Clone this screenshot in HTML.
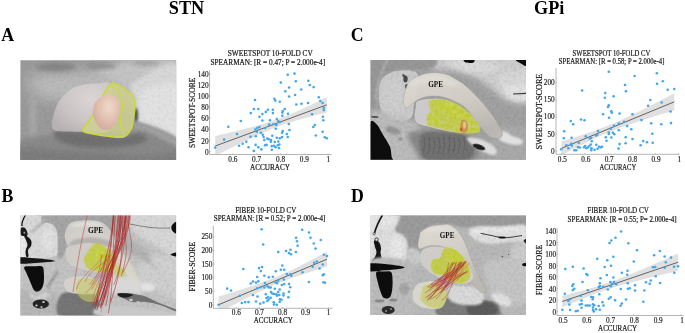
<!DOCTYPE html>
<html><head><meta charset="utf-8"><style>
html,body{margin:0;padding:0;background:#fff;width:685px;height:333px;overflow:hidden}
svg{display:block;will-change:transform}
</style></head><body>
<svg width="685" height="333" viewBox="0 0 685 333" font-family="'Liberation Serif', serif">
<rect width="685" height="333" fill="#fff"/>
<text x="186.50" y="14.40" font-size="18.2" text-anchor="middle" fill="#000" font-weight="bold" >STN</text>
<text x="549.20" y="14.40" font-size="18.2" text-anchor="middle" fill="#000" font-weight="bold" >GPi</text>
<text x="1.30" y="40.80" font-size="17.8" text-anchor="start" fill="#000" font-weight="bold" >A</text>
<text x="1.50" y="202.40" font-size="17.8" text-anchor="start" fill="#000" font-weight="bold" >B</text>
<text x="350.80" y="41.10" font-size="17.8" text-anchor="start" fill="#000" font-weight="bold" >C</text>
<text x="351.00" y="202.30" font-size="17.8" text-anchor="start" fill="#000" font-weight="bold" >D</text>
<defs>
<filter id="b1" x="-50%" y="-50%" width="200%" height="200%"><feGaussianBlur stdDeviation="1"/></filter>
<filter id="b2" x="-50%" y="-50%" width="200%" height="200%"><feGaussianBlur stdDeviation="2"/></filter>
<filter id="b3" x="-50%" y="-50%" width="200%" height="200%"><feGaussianBlur stdDeviation="3.5"/></filter>
<filter id="b5" x="-50%" y="-50%" width="200%" height="200%"><feGaussianBlur stdDeviation="6"/></filter>
<filter id="b05" x="-50%" y="-50%" width="200%" height="200%"><feGaussianBlur stdDeviation="0.5"/></filter>
<filter id="noise" x="0" y="0" width="100%" height="100%">
 <feTurbulence type="fractalNoise" baseFrequency="0.35" numOctaves="2" seed="3" result="n"/>
 <feColorMatrix type="matrix" values="0 0 0 0 0  0 0 0 0 0  0 0 0 0 0  0 0 0 -1.2 0.75" />
</filter>
<filter id="blotch" x="0" y="0" width="100%" height="100%">
 <feTurbulence type="fractalNoise" baseFrequency="0.28" numOctaves="2" seed="7" result="n"/>
 <feColorMatrix in="n" type="matrix" values="0 0 0 0 1  0 0 0 0 1  0 0 0 0 1  0 0 0 2.2 -0.55" result="m"/>
 <feComposite in="SourceGraphic" in2="m" operator="in" result="c"/>
 <feGaussianBlur in="c" stdDeviation="0.4"/>
</filter>
<clipPath id="cA"><rect x="-0.6" y="-0.7" width="155.7" height="99.6"/></clipPath>
<clipPath id="cB"><rect x="-0.6" y="-0.4" width="155.7" height="99.8"/></clipPath>
<clipPath id="cC"><rect x="-0.4" y="-0.4" width="155.4" height="99.7"/></clipPath>
<clipPath id="cD"><rect x="-0.6" y="-0.4" width="155.6" height="99.5"/></clipPath>
<radialGradient id="gOr" cx="0.6" cy="0.35" r="0.75"><stop offset="0" stop-color="#efdacb"/><stop offset="0.5" stop-color="#e2c0b0"/><stop offset="1" stop-color="#d2a69a"/></radialGradient>
<linearGradient id="gGPE" x1="0" y1="0" x2="0.3" y2="1"><stop offset="0" stop-color="#e2ded6"/><stop offset="0.55" stop-color="#d4d0c8"/><stop offset="1" stop-color="#bcb8b3"/></linearGradient>
<radialGradient id="gWh" cx="0.65" cy="0.35" r="0.75"><stop offset="0" stop-color="#e0dad8"/><stop offset="0.6" stop-color="#d0c9ca"/><stop offset="1" stop-color="#bab4b6"/></radialGradient>
</defs>
<g transform="translate(21,61)" clip-path="url(#cA)">
<rect x="-2" y="-2" width="160" height="104" fill="#9a9a9a"/>
<path d="M8.00,14.00 C16.00,9.33 35.00,10.67 60.00,8.00 C85.00,5.33 141.67,-10.67 158.00,-2.00 C174.33,6.67 162.67,49.33 158.00,60.00 C153.33,70.67 138.00,64.00 130.00,62.00 C122.00,60.00 118.33,50.83 110.00,48.00 C101.67,45.17 91.67,46.00 80.00,45.00 C68.33,44.00 51.33,43.50 40.00,42.00 C28.67,40.50 17.33,40.67 12.00,36.00 C6.67,31.33 0.00,18.67 8.00,14.00Z" fill="#b2b2b2" filter="url(#b5)" />
<path d="M20.00,20.00 C26.33,17.67 46.67,17.00 60.00,16.00 C73.33,15.00 91.67,12.50 100.00,14.00 C108.33,15.50 113.33,21.50 110.00,25.00 C106.67,28.50 91.67,33.50 80.00,35.00 C68.33,36.50 49.67,34.83 40.00,34.00 C30.33,33.17 25.33,32.33 22.00,30.00 C18.67,27.67 13.67,22.33 20.00,20.00Z" fill="#bababa" filter="url(#b3)" />
<path d="M80.00,6.00 C90.50,2.67 145.00,-7.33 158.00,0.00 C171.00,7.33 161.83,40.83 158.00,50.00 C154.17,59.17 142.17,57.50 135.00,55.00 C127.83,52.50 121.67,40.83 115.00,35.00 C108.33,29.17 100.83,24.83 95.00,20.00 C89.17,15.17 69.50,9.33 80.00,6.00Z" fill="#c4c4c4" filter="url(#b3)" />
<path d="M112.00,22.00 C119.33,16.17 150.33,-4.83 158.00,5.00 C165.67,14.83 160.33,69.50 158.00,81.00 C155.67,92.50 148.83,76.33 144.00,74.00 C139.17,71.67 134.00,69.17 129.00,67.00 C124.00,64.83 116.50,65.50 114.00,61.00 C111.50,56.50 114.33,46.50 114.00,40.00 C113.67,33.50 104.67,27.83 112.00,22.00Z" fill="#d8d8d8" filter="url(#b2)" />
<path d="M122.00,30.00 C128.33,24.50 152.00,17.33 158.00,25.00 C164.00,32.67 160.33,68.83 158.00,76.00 C155.67,83.17 148.67,70.33 144.00,68.00 C139.33,65.67 134.00,63.67 130.00,62.00 C126.00,60.33 121.33,63.33 120.00,58.00 C118.67,52.67 115.67,35.50 122.00,30.00Z" fill="#e2e2e2" filter="url(#b2)" />
<ellipse cx="35" cy="6" rx="20" ry="4" fill="#858585" filter="url(#b2)"/>
<ellipse cx="80" cy="5" rx="16" ry="3" fill="#8f8f8f" filter="url(#b2)"/>
<ellipse cx="125" cy="2" rx="14" ry="2.5" fill="#a0a0a0" filter="url(#b2)"/>
<ellipse cx="12" cy="55" rx="3.5" ry="30" fill="#a8a8a8" filter="url(#b2)"/>
<path d="M-2.00,80.00 C3.33,75.50 18.00,75.67 30.00,74.00 C42.00,72.33 56.67,70.33 70.00,70.00 C83.33,69.67 100.67,72.17 110.00,72.00 C119.33,71.83 120.33,68.33 126.00,69.00 C131.67,69.67 138.67,73.67 144.00,76.00 C149.33,78.33 155.67,78.83 158.00,83.00 C160.33,87.17 184.67,98.00 158.00,101.00 C131.33,104.00 24.67,104.50 -2.00,101.00 C-28.67,97.50 -7.33,84.50 -2.00,80.00Z" fill="#8a8a8a" filter="url(#b2)" />
<path d="M114.00,60.00 C116.33,59.50 123.00,62.33 128.00,64.00 C133.00,65.67 139.00,67.67 144.00,70.00 C149.00,72.33 155.67,75.33 158.00,78.00 C160.33,80.67 160.33,85.67 158.00,86.00 C155.67,86.33 149.00,82.33 144.00,80.00 C139.00,77.67 133.00,74.17 128.00,72.00 C123.00,69.83 116.33,69.00 114.00,67.00 C111.67,65.00 111.67,60.50 114.00,60.00Z" fill="#9e9e9e" filter="url(#b1)" />
<path d="M35.00,70.00 C40.33,68.67 59.17,71.17 70.00,72.00 C80.83,72.83 92.00,75.00 100.00,75.00 C108.00,75.00 113.83,71.17 118.00,72.00 C122.17,72.83 128.00,77.67 125.00,80.00 C122.00,82.33 110.83,85.00 100.00,86.00 C89.17,87.00 70.33,87.00 60.00,86.00 C49.67,85.00 42.17,82.67 38.00,80.00 C33.83,77.33 29.67,71.33 35.00,70.00Z" fill="#717171" filter="url(#b2)" />
<path d="M-2.00,88.00 C5.00,86.17 26.33,89.33 40.00,90.00 C53.67,90.67 66.67,91.17 80.00,92.00 C93.33,92.83 107.00,95.00 120.00,95.00 C133.00,95.00 151.67,91.00 158.00,92.00 C164.33,93.00 184.67,99.50 158.00,101.00 C131.33,102.50 24.67,103.17 -2.00,101.00 C-28.67,98.83 -9.00,89.83 -2.00,88.00Z" fill="#7c7c7c" filter="url(#b3)" />
<ellipse cx="115" cy="54" rx="2.2" ry="7" fill="#555555" filter="url(#b1)"/>
<path d="M122,66 C132,70 142,74 158,84" stroke="#b0b0b0" stroke-width="0.8" fill="none" filter="url(#b05)" opacity="0.6"/>
<rect x="-1" y="-1" width="158" height="102" filter="url(#noise)" opacity="0.08"/>
<path d="M30.70,63.20 C30.70,59.78 32.55,53.17 34.00,49.00 C35.45,44.83 36.58,41.77 39.40,38.20 C42.22,34.63 47.05,30.02 50.90,27.60 C54.75,25.18 58.33,24.57 62.50,23.70 C66.67,22.83 71.42,22.43 75.90,22.40 C80.38,22.37 86.88,19.07 89.40,23.50 C91.92,27.93 91.07,41.42 91.00,49.00 C90.93,56.58 91.67,65.17 89.00,69.00 C86.33,72.83 79.42,71.70 75.00,72.00 C70.58,72.30 67.17,71.05 62.50,70.80 C57.83,70.55 51.75,70.72 47.00,70.50 C42.25,70.28 36.72,70.72 34.00,69.50 C31.28,68.28 30.70,66.62 30.70,63.20Z" fill="url(#gWh)" filter="url(#b05)" opacity="0.9" />
<path d="M89.20,23.50 C91.62,21.22 92.13,22.40 94.70,23.30 C97.27,24.20 101.75,26.92 104.60,28.90 C107.45,30.88 110.27,32.95 111.80,35.20 C113.33,37.45 113.60,39.10 113.80,42.40 C114.00,45.70 113.60,50.78 113.00,55.00 C112.40,59.22 111.87,64.23 110.20,67.70 C108.53,71.17 106.53,74.50 103.00,75.80 C99.47,77.10 94.15,75.97 89.00,75.50 C83.85,75.03 76.60,73.92 72.10,73.00 C67.60,72.08 63.18,71.50 62.00,70.00 C60.82,68.50 63.33,66.67 65.00,64.00 C66.67,61.33 69.47,58.50 72.00,54.00 C74.53,49.50 77.33,42.08 80.20,37.00 C83.07,31.92 86.78,25.78 89.20,23.50Z" fill="#cfd190" filter="url(#b05)" stroke="#cdd83a" stroke-width="1.5" fill-opacity="0.82"/>
<path d="M89.50,24.00 C90.82,24.97 95.57,27.63 97.40,29.80 C99.23,31.97 99.75,34.30 100.50,37.00 C101.25,39.70 101.98,43.00 101.90,46.00 C101.82,49.00 100.45,52.28 100.00,55.00 C99.55,57.72 98.88,59.88 99.20,62.30 C99.52,64.72 101.27,67.30 101.90,69.50 C102.53,71.70 102.82,74.50 103.00,75.50" fill="none" stroke="#cdd840" stroke-width="1.2" filter="url(#b05)"/>
<path d="M83.80,34.30 C86.50,33.20 88.73,33.25 91.00,34.00 C93.27,34.75 96.15,36.48 97.40,38.80 C98.65,41.12 98.80,44.28 98.50,47.90 C98.20,51.52 97.45,57.02 95.60,60.50 C93.75,63.98 90.12,67.72 87.40,68.80 C84.68,69.88 81.70,68.83 79.30,67.00 C76.90,65.17 74.20,60.68 73.00,57.80 C71.80,54.92 71.80,52.57 72.10,49.70 C72.40,46.83 72.85,43.17 74.80,40.60 C76.75,38.03 81.10,35.40 83.80,34.30Z" fill="url(#gOr)" filter="url(#b05)" />
</g>
<g transform="translate(21,216)" clip-path="url(#cB)">
<rect x="-2" y="-2" width="160" height="104" fill="#c4c4c4"/>
<path d="M19.00,-2.00 C32.17,-2.83 86.00,-5.67 99.00,-2.00 C112.00,1.67 100.33,17.00 97.00,20.00 C93.67,23.00 86.17,17.00 79.00,16.00 C71.83,15.00 59.67,11.00 54.00,14.00 C48.33,17.00 47.17,29.33 45.00,34.00 C42.83,38.67 42.50,40.83 41.00,42.00 C39.50,43.17 36.75,43.17 36.00,41.00 C35.25,38.83 36.58,33.33 36.50,29.00 C36.42,24.67 36.42,18.42 35.50,15.00 C34.58,11.58 32.75,9.83 31.00,8.50 C29.25,7.17 26.58,7.08 25.00,7.00 C23.42,6.92 22.33,8.67 21.50,8.00 C20.67,7.33 20.42,4.67 20.00,3.00 C19.58,1.33 5.83,-1.17 19.00,-2.00Z" fill="#a6a6a6" filter="url(#b1)" />
<path d="M103.00,18.00 C106.33,18.00 113.00,25.67 119.00,30.00 C125.00,34.33 132.67,40.00 139.00,44.00 C145.33,48.00 154.00,50.33 157.00,54.00 C160.00,57.67 160.00,65.67 157.00,66.00 C154.00,66.33 145.67,60.00 139.00,56.00 C132.33,52.00 123.67,46.33 117.00,42.00 C110.33,37.67 101.33,34.00 99.00,30.00 C96.67,26.00 99.67,18.00 103.00,18.00Z" fill="#b4b4b4" filter="url(#b2)" />
<path d="M111.00,-2.00 C118.67,-4.33 149.33,-9.33 157.00,-2.00 C164.67,5.33 160.00,36.33 157.00,42.00 C154.00,47.67 145.33,35.67 139.00,32.00 C132.67,28.33 123.67,23.33 119.00,20.00 C114.33,16.67 112.33,15.67 111.00,12.00 C109.67,8.33 103.33,0.33 111.00,-2.00Z" fill="#d8d8d8" filter="url(#b2)" />
<path d="M119.00,46.00 C122.33,44.33 132.67,50.67 139.00,54.00 C145.33,57.33 154.00,61.00 157.00,66.00 C160.00,71.00 160.00,82.33 157.00,84.00 C154.00,85.67 145.33,79.33 139.00,76.00 C132.67,72.67 122.33,69.00 119.00,64.00 C115.67,59.00 115.67,47.67 119.00,46.00Z" fill="#d0d0d0" filter="url(#b2)" />
<path d="M129.00,39.00 C132.00,37.33 152.33,41.50 157.00,46.00 C161.67,50.50 160.00,64.33 157.00,66.00 C154.00,67.67 143.67,60.50 139.00,56.00 C134.33,51.50 126.00,40.67 129.00,39.00Z" fill="#d2d2d2" filter="url(#b2)" />
<path d="M-2.00,-2.00 C1.50,-9.42 15.33,-2.83 19.00,-2.00 C22.67,-1.17 19.58,1.33 20.00,3.00 C20.42,4.67 20.67,7.33 21.50,8.00 C22.33,8.67 23.42,6.92 25.00,7.00 C26.58,7.08 29.25,7.17 31.00,8.50 C32.75,9.83 34.58,11.58 35.50,15.00 C36.42,18.42 36.58,24.83 36.50,29.00 C36.42,33.17 37.92,37.75 35.00,40.00 C32.08,42.25 25.17,42.08 19.00,42.50 C12.83,42.92 1.50,49.92 -2.00,42.50 C-5.50,35.08 -5.50,5.42 -2.00,-2.00Z" fill="#d9d9d9" filter="url(#b05)" />
<ellipse cx="27" cy="24" rx="7" ry="12" fill="#e2e2e2" filter="url(#b2)"/>
<path d="M11,16 L25,3" stroke="#b6b6b6" stroke-width="2.6" filter="url(#b1)"/>
<path d="M-2.00,-2.00 C-1.00,-4.00 3.50,-3.67 4.00,-2.00 C4.50,-0.33 2.00,6.00 1.00,8.00 C0.00,10.00 -1.50,11.67 -2.00,10.00 C-2.50,8.33 -3.00,0.00 -2.00,-2.00Z" fill="#e6e6e6" filter="url(#b05)" />
<path d="M-2.00,20.00 C-1.17,16.50 1.83,18.33 3.00,20.00 C4.17,21.67 4.50,26.67 5.00,30.00 C5.50,33.33 7.17,38.17 6.00,40.00 C4.83,41.83 -0.67,44.33 -2.00,41.00 C-3.33,37.67 -2.83,23.50 -2.00,20.00Z" fill="#eaeaea" filter="url(#b05)" />
<path d="M4.5,-1 C2,3 0.5,6 1,10" fill="none" stroke="#1a1a1a" stroke-width="1.4" filter="url(#b05)"/>
<path d="M0.00,12.00 C0.67,10.83 2.92,11.17 4.00,12.00 C5.08,12.83 6.17,15.67 6.50,17.00 C6.83,18.33 6.53,19.50 6.00,20.00 C5.47,20.50 4.30,20.17 3.30,20.00 C2.30,19.83 0.55,20.33 0.00,19.00 C-0.55,17.67 -0.67,13.17 0.00,12.00Z" fill="#1e1e1e" filter="url(#b05)" />
<circle cx="3.3000000000000007" cy="16.80000000000001" r="1.3" fill="#9a9a9a" stroke="#111" stroke-width="0.6"/>
<path d="M3.30,20.00 C3.63,19.50 5.83,20.17 7.00,21.00 C8.17,21.83 9.80,23.50 10.30,25.00 C10.80,26.50 10.55,28.50 10.00,30.00 C9.45,31.50 7.42,32.33 7.00,34.00 C6.58,35.67 7.75,38.83 7.50,40.00 C7.25,41.17 6.00,41.83 5.50,41.00 C5.00,40.17 4.33,37.00 4.50,35.00 C4.67,33.00 6.42,30.83 6.50,29.00 C6.58,27.17 5.53,25.50 5.00,24.00 C4.47,22.50 2.97,20.50 3.30,20.00Z" fill="#161616" filter="url(#b05)" />
<path d="M-2.00,41.50 C0.67,40.62 9.17,41.87 14.00,42.20 C18.83,42.53 23.67,43.03 27.00,43.50 C30.33,43.97 34.00,44.58 34.00,45.00 C34.00,45.42 30.33,45.67 27.00,46.00 C23.67,46.33 18.83,46.75 14.00,47.00 C9.17,47.25 0.67,48.42 -2.00,47.50 C-4.67,46.58 -4.67,42.38 -2.00,41.50Z" fill="#141414" filter="url(#b05)" />
<path d="M3.40,50.90 C4.57,49.93 9.03,50.28 12.00,50.20 C14.97,50.12 19.40,49.43 21.20,50.40 C23.00,51.37 22.53,53.40 22.80,56.00 C23.07,58.60 23.18,63.17 22.80,66.00 C22.42,68.83 21.60,71.37 20.50,73.00 C19.40,74.63 17.52,75.72 16.20,75.80 C14.88,75.88 13.88,75.47 12.60,73.50 C11.32,71.53 9.77,66.92 8.50,64.00 C7.23,61.08 5.85,58.18 5.00,56.00 C4.15,53.82 2.23,51.87 3.40,50.90Z" fill="#0c0c0c" filter="url(#b05)" />
<path d="M-2.00,74.00 C0.67,70.33 8.00,77.67 14.00,78.00 C20.00,78.33 30.17,72.33 34.00,76.00 C37.83,79.67 43.00,96.00 37.00,100.00 C31.00,104.00 4.50,104.33 -2.00,100.00 C-8.50,95.67 -4.67,77.67 -2.00,74.00Z" fill="#b8b8b8" filter="url(#b2)" />
<path d="M9.00,77.00 C9.83,76.67 13.50,80.17 16.00,80.00 C18.50,79.83 21.83,76.00 24.00,76.00 C26.17,76.00 29.83,78.67 29.00,80.00 C28.17,81.33 22.00,83.67 19.00,84.00 C16.00,84.33 12.67,83.17 11.00,82.00 C9.33,80.83 8.17,77.33 9.00,77.00Z" fill="#d2d2d2" filter="url(#b1)" />
<ellipse cx="19.799999999999997" cy="88" rx="8.2" ry="4.5" fill="#262626" filter="url(#b05)"/>
<ellipse cx="15.5" cy="89.5" rx="1.2" ry="1" fill="#d0d0d0" filter="url(#b05)"/>
<ellipse cx="22.5" cy="86" rx="1.3" ry="1" fill="#d0d0d0" filter="url(#b05)"/>
<ellipse cx="20.5" cy="91" rx="1.1" ry="0.9" fill="#c0c0c0" filter="url(#b05)"/>
<path d="M26,72 L37,55" stroke="#9c9c9c" stroke-width="3" filter="url(#b1)"/>
<path d="M38.80,80.00 C40.83,75.92 46.30,76.17 51.00,75.50 C55.70,74.83 62.95,75.25 67.00,76.00 C71.05,76.75 73.30,78.00 75.30,80.00 C77.30,82.00 78.22,84.67 79.00,88.00 C79.78,91.33 86.70,98.00 80.00,100.00 C73.30,102.00 45.67,103.33 38.80,100.00 C31.93,96.67 36.77,84.08 38.80,80.00Z" fill="#777777" filter="url(#b1)" />
<rect x="-1" y="-1" width="158" height="102" filter="url(#noise)" opacity="0.12"/>
<path d="M87.00,61.00 C89.83,58.33 98.50,59.50 104.00,60.00 C109.50,60.50 117.33,61.08 120.00,64.00 C122.67,66.92 122.67,75.33 120.00,77.50 C117.33,79.67 109.50,77.25 104.00,77.00 C98.50,76.75 89.83,78.67 87.00,76.00 C84.17,73.33 84.17,63.67 87.00,61.00Z" fill="#d8d8d8" filter="url(#b2)" />
<path d="M120.40,68.00 C121.57,66.83 126.70,67.00 129.00,67.50 C131.30,68.00 133.87,69.80 134.20,71.00 C134.53,72.20 133.03,74.12 131.00,74.70 C128.97,75.28 123.77,75.62 122.00,74.50 C120.23,73.38 119.23,69.17 120.40,68.00Z" fill="#e2e2e2" filter="url(#b1)" />
<path d="M97.00,77.50 C98.33,77.00 102.25,76.92 105.00,77.00 C107.75,77.08 110.23,77.42 113.50,78.00 C116.77,78.58 120.68,79.08 124.60,80.50 C128.52,81.92 131.93,84.33 137.00,86.50 C142.07,88.67 152.00,92.00 155.00,93.50 C158.00,95.00 157.67,96.25 155.00,95.50 C152.33,94.75 144.07,90.58 139.00,89.00 C133.93,87.42 129.27,86.50 124.60,86.00 C119.93,85.50 114.45,86.50 111.00,86.00 C107.55,85.50 106.23,84.00 103.90,83.00 C101.57,82.00 98.15,80.92 97.00,80.00 C95.85,79.08 95.67,78.00 97.00,77.50Z" fill="#707070" filter="url(#b05)" />
<path d="M97.00,77.50 C98.17,76.98 103.50,77.15 106.00,77.40 C108.50,77.65 112.17,78.30 112.00,79.00 C111.83,79.70 107.17,81.35 105.00,81.60 C102.83,81.85 100.33,81.18 99.00,80.50 C97.67,79.82 95.83,78.02 97.00,77.50Z" fill="#1c1c1c" filter="url(#b05)" />
<ellipse cx="110" cy="84" rx="2" ry="1.3" fill="#c8c8c8" filter="url(#b05)"/>
<ellipse cx="117" cy="86" rx="1.8" ry="1" fill="#bcbcbc" filter="url(#b05)"/>
<path d="M79.00,90.00 C84.00,88.50 96.33,89.83 109.00,91.00 C121.67,92.17 147.33,95.50 155.00,97.00 C162.67,98.50 167.67,99.50 155.00,100.00 C142.33,100.50 91.67,101.67 79.00,100.00 C66.33,98.33 74.00,91.50 79.00,90.00Z" fill="#c8c8c8" filter="url(#b1)" />
<path d="M155.50,6.00 C154.67,4.83 151.17,8.50 150.50,10.00 C149.83,11.50 150.67,13.83 151.50,15.00 C152.33,16.17 154.83,18.50 155.50,17.00 C156.17,15.50 156.33,7.17 155.50,6.00Z" fill="#111" filter="url(#b05)" />
<path d="M155.50,36.50 C154.50,36.17 149.50,37.83 149.50,38.50 C149.50,39.17 154.50,40.83 155.50,40.50 C156.50,40.17 156.50,36.83 155.50,36.50Z" fill="#111" filter="url(#b05)" />
<path d="M109,8 C119,10 134,13 149,12" fill="none" stroke="#444" stroke-width="0.6"/>
<path d="M95.00,36.00 C96.67,35.17 100.33,36.83 103.00,39.00 C105.67,41.17 108.67,44.83 111.00,49.00 C113.33,53.17 116.67,60.67 117.00,64.00 C117.33,67.33 115.33,70.33 113.00,69.00 C110.67,67.67 106.33,60.17 103.00,56.00 C99.67,51.83 94.33,47.33 93.00,44.00 C91.67,40.67 93.33,36.83 95.00,36.00Z" fill="#dcd8cc" filter="url(#b1)" opacity="0.85" />
<path d="M44.50,15.00 C45.33,12.55 47.00,8.97 49.00,7.30 C51.00,5.63 53.25,5.50 56.50,5.00 C59.75,4.50 64.75,4.17 68.50,4.30 C72.25,4.43 76.25,4.93 79.00,5.80 C81.75,6.67 83.00,7.63 85.00,9.50 C87.00,11.37 89.33,13.75 91.00,17.00 C92.67,20.25 95.00,26.17 95.00,29.00 C95.00,31.83 93.67,34.17 91.00,34.00 C88.33,33.83 83.00,29.67 79.00,28.00 C75.00,26.33 71.00,24.33 67.00,24.00 C63.00,23.67 58.33,25.17 55.00,26.00 C51.67,26.83 48.83,29.67 47.00,29.00 C45.17,28.33 44.42,24.33 44.00,22.00 C43.58,19.67 43.67,17.45 44.50,15.00Z" fill="#d6d3ce" filter="url(#b05)" opacity="0.85" />
<path d="M49.00,10.00 C49.00,9.25 54.83,7.17 59.00,6.50 C63.17,5.83 70.00,5.42 74.00,6.00 C78.00,6.58 83.00,9.33 83.00,10.00 C83.00,10.67 78.00,9.83 74.00,10.00 C70.00,10.17 63.17,11.00 59.00,11.00 C54.83,11.00 49.00,10.75 49.00,10.00Z" fill="#e4e2de" filter="url(#b1)" opacity="0.8" />
<path d="M47.50,27.50 C48.42,26.50 52.50,24.00 56.50,23.00 C60.50,22.00 66.50,21.25 71.50,21.50 C76.50,21.75 83.08,22.92 86.50,24.50 C89.92,26.08 93.25,30.25 92.00,31.00 C90.75,31.75 83.67,29.75 79.00,29.00 C74.33,28.25 68.67,26.50 64.00,26.50 C59.33,26.50 53.75,28.83 51.00,29.00 C48.25,29.17 46.58,28.50 47.50,27.50Z" fill="#b4b1ae" filter="url(#b1)" />
<path d="M45.00,33.00 C46.33,30.17 51.00,30.00 55.00,29.00 C59.00,28.00 64.33,26.83 69.00,27.00 C73.67,27.17 79.00,28.50 83.00,30.00 C87.00,31.50 90.50,33.33 93.00,36.00 C95.50,38.67 98.00,42.67 98.00,46.00 C98.00,49.33 97.00,54.33 93.00,56.00 C89.00,57.67 80.00,56.67 74.00,56.00 C68.00,55.33 61.50,53.67 57.00,52.00 C52.50,50.33 49.00,49.17 47.00,46.00 C45.00,42.83 43.67,35.83 45.00,33.00Z" fill="#d2cfca" filter="url(#b05)" opacity="0.9" />
<path d="M43.50,65.00 C44.83,62.58 49.75,61.17 54.00,60.50 C58.25,59.83 65.17,59.75 69.00,61.00 C72.83,62.25 76.00,65.33 77.00,68.00 C78.00,70.67 78.00,75.33 75.00,77.00 C72.00,78.67 63.83,78.33 59.00,78.00 C54.17,77.67 48.58,77.17 46.00,75.00 C43.42,72.83 42.17,67.42 43.50,65.00Z" fill="#d6d3cd" filter="url(#b05)" opacity="0.9" />
<path d="M74.50,27.50 C76.83,26.83 79.42,28.58 82.00,30.00 C84.58,31.42 87.83,33.33 90.00,36.00 C92.17,38.67 94.83,43.00 95.00,46.00 C95.17,49.00 93.67,52.33 91.00,54.00 C88.33,55.67 83.00,56.33 79.00,56.00 C75.00,55.67 69.67,54.17 67.00,52.00 C64.33,49.83 62.83,46.00 63.00,43.00 C63.17,40.00 66.08,36.58 68.00,34.00 C69.92,31.42 72.17,28.17 74.50,27.50Z" fill="#c4cc50" filter="url(#b1)" opacity="0.7" />
<ellipse cx="79" cy="39" rx="6" ry="5" fill="#d4dc3c" filter="url(#b1)" opacity="0.5"/>
<path d="M74.50,27.50 C76.83,26.83 79.42,28.58 82.00,30.00 C84.58,31.42 87.83,33.33 90.00,36.00 C92.17,38.67 94.83,43.00 95.00,46.00 C95.17,49.00 93.67,52.33 91.00,54.00 C88.33,55.67 83.00,56.33 79.00,56.00 C75.00,55.67 69.67,54.17 67.00,52.00 C64.33,49.83 62.83,46.00 63.00,43.00 C63.17,40.00 66.08,36.58 68.00,34.00 C69.92,31.42 72.17,28.17 74.50,27.50Z" fill="#bccb1e" filter="url(#blotch)" opacity="0.7" />
<path d="M92.80,49.00 C93.47,47.33 97.13,49.00 99.00,50.00 C100.87,51.00 103.33,53.33 104.00,55.00 C104.67,56.67 104.50,59.17 103.00,60.00 C101.50,60.83 96.70,61.83 95.00,60.00 C93.30,58.17 92.13,50.67 92.80,49.00Z" fill="#c8d050" filter="url(#b1)" opacity="0.65" />
<path d="M57.00,65.00 C58.83,62.75 63.83,62.33 67.00,62.50 C70.17,62.67 74.00,63.75 76.00,66.00 C78.00,68.25 79.33,72.83 79.00,76.00 C78.67,79.17 76.67,83.67 74.00,85.00 C71.33,86.33 66.00,85.50 63.00,84.00 C60.00,82.50 57.00,79.17 56.00,76.00 C55.00,72.83 55.17,67.25 57.00,65.00Z" fill="#c6cc6a" filter="url(#b05)" opacity="0.6" stroke="#c8d040" stroke-width="0.8"/>
<text x="67" y="16.80000000000001" font-size="7.6" font-weight="bold" fill="#111" textLength="15.2" lengthAdjust="spacingAndGlyphs">GPE</text>
<path d="M66.3,-1 Q59,29 52,76" fill="none" stroke="#c0403a" stroke-width="0.55"/>
<path d="M92.2,-2.8 C91.7,28.3 85.5,64.9 79.6,92.3" fill="none" stroke="#a51f1f" stroke-width="0.6" opacity="0.9"/>
<path d="M105.3,-1.7 C103.5,32.5 86.0,55.6 74.0,89.6" fill="none" stroke="#a51f1f" stroke-width="0.6" opacity="0.9"/>
<path d="M108.9,-2.2 C107.5,37.4 81.0,53.1 75.4,85.9" fill="none" stroke="#a51f1f" stroke-width="0.6" opacity="0.9"/>
<path d="M101.9,-1.1 C101.0,37.3 101.4,51.7 89.5,86.4" fill="none" stroke="#a51f1f" stroke-width="0.6" opacity="0.9"/>
<path d="M107.6,-1.7 C104.7,30.2 84.9,61.5 75.8,94.3" fill="none" stroke="#a51f1f" stroke-width="0.6" opacity="0.9"/>
<path d="M98.0,-2.3 C94.7,37.3 91.5,66.6 79.7,91.6" fill="none" stroke="#a51f1f" stroke-width="0.6" opacity="0.9"/>
<path d="M97.5,-2.6 C94.8,28.3 90.3,64.0 84.7,89.8" fill="none" stroke="#a51f1f" stroke-width="0.6" opacity="0.9"/>
<path d="M104.5,-2.8 C101.9,37.1 85.4,65.9 79.8,96.4" fill="none" stroke="#d06060" stroke-width="0.6" opacity="0.9"/>
<path d="M100.0,-1.4 C99.6,38.4 88.3,49.1 83.4,82.1" fill="none" stroke="#a51f1f" stroke-width="0.6" opacity="0.9"/>
<path d="M104.8,-1.3 C101.7,31.5 88.4,60.1 81.5,89.0" fill="none" stroke="#a51f1f" stroke-width="0.6" opacity="0.9"/>
<path d="M92.7,-2.8 C89.9,37.0 84.2,60.6 74.0,93.1" fill="none" stroke="#a51f1f" stroke-width="0.6" opacity="0.9"/>
<path d="M109.7,-2.3 C108.6,29.5 75.6,53.0 71.2,86.8" fill="none" stroke="#d06060" stroke-width="0.6" opacity="0.9"/>
<path d="M92.9,-1.8 C89.6,31.2 81.0,53.0 75.5,83.5" fill="none" stroke="#a51f1f" stroke-width="0.6" opacity="0.9"/>
<path d="M101.4,-1.3 C98.6,33.3 89.6,59.1 79.8,89.4" fill="none" stroke="#a51f1f" stroke-width="0.6" opacity="0.9"/>
<path d="M94.2,-1.4 C91.5,34.4 92.7,70.5 87.4,97.0" fill="none" stroke="#a51f1f" stroke-width="0.6" opacity="0.9"/>
<path d="M99.6,-2.7 C97.9,34.4 87.7,53.0 79.4,85.5" fill="none" stroke="#a51f1f" stroke-width="0.6" opacity="0.9"/>
<path d="M105.2,-1.3 C101.7,31.2 77.3,64.2 71.7,91.1" fill="none" stroke="#a51f1f" stroke-width="0.6" opacity="0.9"/>
<path d="M99.2,-1.4 C98.4,32.1 89.0,52.3 79.5,83.6" fill="none" stroke="#a51f1f" stroke-width="0.6" opacity="0.9"/>
<path d="M97.9,-2.6 C95.9,29.6 95.1,46.9 86.3,71.8" fill="none" stroke="#d06060" stroke-width="0.5" opacity="0.9"/>
<path d="M103.3,-1.1 C103.3,31.4 109.2,30.3 100.2,60.2" fill="none" stroke="#a51f1f" stroke-width="0.5" opacity="0.9"/>
<path d="M107.1,-1.3 C106.8,24.9 117.7,27.6 101.9,56.4" fill="none" stroke="#a51f1f" stroke-width="0.5" opacity="0.9"/>
<path d="M97.2,-2.9 C96.6,25.2 95.3,31.4 79.9,59.8" fill="none" stroke="#d06060" stroke-width="0.5" opacity="0.9"/>
<path d="M105.9,-1.9 C103.5,25.4 103.5,41.4 92.8,68.9" fill="none" stroke="#a51f1f" stroke-width="0.5" opacity="0.9"/>
<path d="M108.8,-2.1 C105.6,27.3 94.3,33.4 80.7,62.5" fill="none" stroke="#a51f1f" stroke-width="0.5" opacity="0.9"/>
<path d="M85.8,39.3 C83.2,53.2 77.3,55.9 68.1,69.0" fill="none" stroke="#b03030" stroke-width="0.4" opacity="0.9"/>
<path d="M86.4,39.0 C84.6,53.4 77.5,61.5 70.5,73.5" fill="none" stroke="#b03030" stroke-width="0.4" opacity="0.9"/>
<path d="M85.0,38.1 C83.2,51.6 74.1,67.8 64.7,77.2" fill="none" stroke="#b03030" stroke-width="0.4" opacity="0.9"/>
<path d="M80.4,38.1 C79.6,52.1 78.7,55.4 70.7,69.1" fill="none" stroke="#b03030" stroke-width="0.4" opacity="0.9"/>
<path d="M81.9,38.5 C80.7,47.5 58.6,59.5 55.1,73.4" fill="none" stroke="#b03030" stroke-width="0.4" opacity="0.9"/>
<path d="M89.5,39.5 C88.9,45.7 68.5,51.8 64.0,66.2" fill="none" stroke="#b03030" stroke-width="0.4" opacity="0.9"/>
</g>
<g transform="translate(371,60.5)" clip-path="url(#cC)">
<rect x="-2" y="-2" width="160" height="104" fill="#a2a2a2"/>
<path d="M59.00,-2.50 C75.00,-4.17 140.67,-9.50 157.00,-2.50 C173.33,4.50 160.83,32.50 157.00,39.50 C153.17,46.50 142.00,42.50 134.00,39.50 C126.00,36.50 117.33,26.17 109.00,21.50 C100.67,16.83 92.00,13.83 84.00,11.50 C76.00,9.17 65.17,9.83 61.00,7.50 C56.83,5.17 43.00,-0.83 59.00,-2.50Z" fill="#cfcfcf" filter="url(#b3)" />
<path d="M77.00,1.50 C78.67,-0.50 92.00,-0.50 99.00,-0.50 C106.00,-0.50 114.00,0.17 119.00,1.50 C124.00,2.83 129.83,5.67 129.00,7.50 C128.17,9.33 120.67,11.83 114.00,12.50 C107.33,13.17 95.17,13.33 89.00,11.50 C82.83,9.67 75.33,3.50 77.00,1.50Z" fill="#dadada" filter="url(#b2)" />
<path d="M129.00,14.50 C131.50,11.83 139.33,12.00 144.00,11.50 C148.67,11.00 154.83,6.83 157.00,11.50 C159.17,16.17 160.00,35.00 157.00,39.50 C154.00,44.00 143.67,40.50 139.00,38.50 C134.33,36.50 130.67,31.50 129.00,27.50 C127.33,23.50 126.50,17.17 129.00,14.50Z" fill="#d8d8d8" filter="url(#b2)" />
<path d="M134.00,25.50 C134.83,23.33 140.17,24.50 144.00,24.50 C147.83,24.50 154.83,23.17 157.00,25.50 C159.17,27.83 160.00,36.50 157.00,38.50 C154.00,40.50 142.83,39.67 139.00,37.50 C135.17,35.33 133.17,27.67 134.00,25.50Z" fill="#e2e2e2" filter="url(#b1)" />
<path d="M79.00,11.50 C82.00,9.83 92.33,14.50 99.00,17.50 C105.67,20.50 113.17,25.00 119.00,29.50 C124.83,34.00 127.67,40.83 134.00,44.50 C140.33,48.17 153.17,47.33 157.00,51.50 C160.83,55.67 160.83,67.33 157.00,69.50 C153.17,71.67 140.67,67.50 134.00,64.50 C127.33,61.50 122.83,56.00 117.00,51.50 C111.17,47.00 105.00,41.50 99.00,37.50 C93.00,33.50 84.33,31.83 81.00,27.50 C77.67,23.17 76.00,13.17 79.00,11.50Z" fill="#a2a2a2" filter="url(#b3)" />
<path d="M-2.00,-2.50 C8.50,-12.17 50.50,-4.17 61.00,-2.50 C71.50,-0.83 64.67,5.67 61.00,7.50 C57.33,9.33 45.17,8.25 39.00,8.50 C32.83,8.75 28.50,8.00 24.00,9.00 C19.50,10.00 15.00,11.75 12.00,14.50 C9.00,17.25 7.33,19.67 6.00,25.50 C4.67,31.33 5.33,44.50 4.00,49.50 C2.67,54.50 -1.00,64.17 -2.00,55.50 C-3.00,46.83 -12.50,7.17 -2.00,-2.50Z" fill="#989898" filter="url(#b1)" />
<path d="M17,-1.5 C11,9.5 6,21.5 4.5,39.5" stroke="#b2b2b2" stroke-width="2" fill="none" filter="url(#b1)"/>
<path d="M8.00,29.50 C8.33,25.00 9.00,21.42 11.00,18.50 C13.00,15.58 16.67,13.42 20.00,12.00 C23.33,10.58 27.50,10.25 31.00,10.00 C34.50,9.75 38.33,9.75 41.00,10.50 C43.67,11.25 46.17,11.33 47.00,14.50 C47.83,17.67 46.67,24.50 46.00,29.50 C45.33,34.50 44.00,39.83 43.00,44.50 C42.00,49.17 42.67,54.75 40.00,57.50 C37.33,60.25 31.33,61.17 27.00,61.00 C22.67,60.83 17.00,59.08 14.00,56.50 C11.00,53.92 10.00,50.00 9.00,45.50 C8.00,41.00 7.67,34.00 8.00,29.50Z" fill="#cbcbcb" filter="url(#b05)" />
<ellipse cx="23" cy="34.5" rx="10" ry="16" fill="#d2d2d2" filter="url(#b3)" opacity="0.8"/>
<ellipse cx="34.5" cy="18.5" rx="2.2" ry="3.4" fill="#4a4a4a" filter="url(#b05)"/>
<ellipse cx="35.8" cy="26.0" rx="1.9" ry="2.4" fill="#555555" filter="url(#b05)"/>
<ellipse cx="32.5" cy="15.0" rx="1.2" ry="1.2" fill="#444" filter="url(#b05)"/>
<path d="M0.00,51.50 C4.00,44.50 16.17,55.33 24.00,57.50 C31.83,59.67 42.50,57.50 47.00,64.50 C51.50,71.50 58.83,93.67 51.00,99.50 C43.17,105.33 8.50,107.50 0.00,99.50 C-8.50,91.50 -4.00,58.50 0.00,51.50Z" fill="#bcbcbc" filter="url(#b2)" />
<ellipse cx="22" cy="70.0" rx="8" ry="3.5" fill="#959595" filter="url(#b1)" transform="rotate(15 22 70.0)"/>
<ellipse cx="29.5" cy="78.5" rx="2" ry="2" fill="#9a9a9a" filter="url(#b05)"/>
<path d="M0.39999999999997726,56.0 L7.300000000000011,57.0" stroke="#555" stroke-width="2" filter="url(#b05)"/>
<path d="M-1.00,63.30 C0.10,57.17 3.65,62.27 5.60,63.70 C7.55,65.13 9.00,69.10 10.70,71.90 C12.40,74.70 14.37,77.93 15.80,80.50 C17.23,83.07 18.52,84.73 19.30,87.30 C20.08,89.87 20.30,93.70 20.50,95.90 C20.70,98.10 24.08,99.73 20.50,100.50 C16.92,101.27 2.58,106.70 -1.00,100.50 C-4.58,94.30 -2.10,69.43 -1.00,63.30Z" fill="#0d0d0d" filter="url(#b05)" />
<path d="M37.00,73.50 C38.67,70.17 48.67,70.33 54.00,69.50 C59.33,68.67 63.17,68.17 69.00,68.50 C74.83,68.83 83.33,69.83 89.00,71.50 C94.67,73.17 100.00,75.50 103.00,78.50 C106.00,81.50 107.33,85.83 107.00,89.50 C106.67,93.17 109.83,98.67 101.00,100.50 C92.17,102.33 63.50,102.33 54.00,100.50 C44.50,98.67 46.83,94.00 44.00,89.50 C41.17,85.00 35.33,76.83 37.00,73.50Z" fill="#8a8a8a" filter="url(#b2)" />
<path d="M51.00,73.50 C54.33,70.83 62.67,71.50 69.00,71.50 C75.33,71.50 83.67,72.17 89.00,73.50 C94.33,74.83 98.67,76.50 101.00,79.50 C103.33,82.50 104.00,88.17 103.00,91.50 C102.00,94.83 102.67,98.17 95.00,99.50 C87.33,100.83 64.67,101.50 57.00,99.50 C49.33,97.50 50.00,91.83 49.00,87.50 C48.00,83.17 47.67,76.17 51.00,73.50Z" fill="#727272" filter="url(#b1)" />
<path d="M53,76.5 Q55,84.5 52,93.5" stroke="#5a5a5a" stroke-width="0.8" fill="none" filter="url(#b05)" opacity="0.7"/>
<path d="M58,76.5 Q60,84.5 57,93.5" stroke="#5a5a5a" stroke-width="0.8" fill="none" filter="url(#b05)" opacity="0.7"/>
<path d="M63,76.5 Q65,84.5 62,93.5" stroke="#5a5a5a" stroke-width="0.8" fill="none" filter="url(#b05)" opacity="0.7"/>
<path d="M68,76.5 Q70,84.5 67,93.5" stroke="#5a5a5a" stroke-width="0.8" fill="none" filter="url(#b05)" opacity="0.7"/>
<path d="M73,76.5 Q75,84.5 72,93.5" stroke="#5a5a5a" stroke-width="0.8" fill="none" filter="url(#b05)" opacity="0.7"/>
<path d="M78,76.5 Q80,84.5 77,93.5" stroke="#5a5a5a" stroke-width="0.8" fill="none" filter="url(#b05)" opacity="0.7"/>
<path d="M83,76.5 Q85,84.5 82,93.5" stroke="#5a5a5a" stroke-width="0.8" fill="none" filter="url(#b05)" opacity="0.7"/>
<path d="M88,76.5 Q90,84.5 87,93.5" stroke="#5a5a5a" stroke-width="0.8" fill="none" filter="url(#b05)" opacity="0.7"/>
<path d="M93,76.5 Q95,84.5 92,93.5" stroke="#5a5a5a" stroke-width="0.8" fill="none" filter="url(#b05)" opacity="0.7"/>
<path d="M125.00,67.50 C131.33,64.17 151.67,64.00 157.00,69.50 C162.33,75.00 161.67,95.33 157.00,100.50 C152.33,105.67 135.33,102.33 129.00,100.50 C122.67,98.67 119.67,95.00 119.00,89.50 C118.33,84.00 118.67,70.83 125.00,67.50Z" fill="#aaaaaa" filter="url(#b2)" />
<rect x="-1" y="-1" width="158" height="102" filter="url(#noise)" opacity="0.12"/>
<path d="M96.40,77.00 C98.07,76.33 104.90,77.25 109.00,78.50 C113.10,79.75 118.17,82.33 121.00,84.50 C123.83,86.67 126.00,89.83 126.00,91.50 C126.00,93.17 123.83,94.83 121.00,94.50 C118.17,94.17 112.67,91.50 109.00,89.50 C105.33,87.50 101.10,84.58 99.00,82.50 C96.90,80.42 94.73,77.67 96.40,77.00Z" fill="#dcdcdc" filter="url(#b1)" />
<path d="M126.00,71.50 C126.83,70.08 131.50,70.33 134.00,71.00 C136.50,71.67 138.33,74.25 141.00,75.50 C143.67,76.75 148.33,77.17 150.00,78.50 C151.67,79.83 152.50,82.58 151.00,83.50 C149.50,84.42 144.67,84.67 141.00,84.00 C137.33,83.33 131.50,81.58 129.00,79.50 C126.50,77.42 125.17,72.92 126.00,71.50Z" fill="#e0e0e0" filter="url(#b1)" />
<ellipse cx="108" cy="86.5" rx="6.5" ry="2.5" fill="#1e1e1e" filter="url(#b05)" transform="rotate(20 108 86.5)"/>
<path d="M93.00,-0.50 C94.33,-0.92 101.50,-0.97 103.00,-0.50 C104.50,-0.03 103.33,1.88 102.00,2.30 C100.67,2.72 96.50,2.47 95.00,2.00 C93.50,1.53 91.67,-0.08 93.00,-0.50Z" fill="#111" filter="url(#b05)" />
<path d="M145.00,-0.50 C146.00,-1.00 153.33,-1.50 155.00,-0.50 C156.67,0.50 156.00,5.00 155.00,5.50 C154.00,6.00 150.67,3.50 149.00,2.50 C147.33,1.50 144.00,0.00 145.00,-0.50Z" fill="#111" filter="url(#b05)" />
<path d="M142,33.5 L155,32.8" stroke="#3a3a3a" stroke-width="1.2"/>
<path d="M32.40,42.80 C32.10,40.17 33.07,35.07 34.00,31.50 C34.93,27.93 35.83,24.02 38.00,21.40 C40.17,18.78 43.62,17.30 47.00,15.80 C50.38,14.30 53.80,12.78 58.30,12.40 C62.80,12.02 69.12,12.18 74.00,13.50 C78.88,14.82 83.83,18.05 87.60,20.30 C91.37,22.55 93.22,24.00 96.60,27.00 C99.98,30.00 104.13,34.17 107.90,38.30 C111.67,42.43 115.82,47.28 119.20,51.80 C122.58,56.32 126.13,61.63 128.20,65.40 C130.27,69.17 131.80,72.30 131.60,74.40 C131.40,76.50 129.07,77.65 127.00,78.00 C124.93,78.35 122.00,78.25 119.20,76.50 C116.40,74.75 112.83,70.50 110.20,67.50 C107.57,64.50 106.03,61.87 103.40,58.50 C100.77,55.13 97.80,50.30 94.40,47.30 C91.00,44.30 87.13,42.37 83.00,40.50 C78.87,38.63 74.10,36.83 69.60,36.10 C65.10,35.37 60.13,35.37 56.00,36.10 C51.87,36.83 48.17,38.63 44.80,40.50 C41.43,42.37 37.87,46.92 35.80,47.30 C33.73,47.68 32.70,45.43 32.40,42.80Z" fill="url(#gGPE)" filter="url(#b05)" opacity="0.92" stroke="#9a9a9a" stroke-width="0.4"/>
<path d="M39.00,25.50 C38.67,24.67 43.67,20.25 47.00,18.50 C50.33,16.75 54.50,15.33 59.00,15.00 C63.50,14.67 69.33,15.08 74.00,16.50 C78.67,17.92 86.17,22.00 87.00,23.50 C87.83,25.00 82.83,25.83 79.00,25.50 C75.17,25.17 69.00,21.83 64.00,21.50 C59.00,21.17 53.17,22.83 49.00,23.50 C44.83,24.17 39.33,26.33 39.00,25.50Z" fill="#e0ddd8" filter="url(#b1)" opacity="0.7" />
<path d="M44.80,47.30 C45.35,44.67 44.00,42.00 47.00,40.50 C50.00,39.00 57.53,38.30 62.80,38.30 C68.07,38.30 73.33,38.63 78.60,40.50 C83.87,42.37 90.27,46.50 94.40,49.50 C98.53,52.50 100.97,55.50 103.40,58.50 C105.83,61.50 108.63,65.23 109.00,67.50 C109.37,69.77 109.53,71.33 105.60,72.10 C101.67,72.87 92.53,72.87 85.40,72.10 C78.27,71.33 69.20,69.00 62.80,67.50 C56.40,66.00 50.18,64.97 47.00,63.10 C43.82,61.23 44.07,58.93 43.70,56.30 C43.33,53.67 44.25,49.93 44.80,47.30Z" fill="#d2cfd0" filter="url(#b05)" opacity="0.9" />
<path d="M58.30,40.50 C60.73,38.83 68.73,38.55 74.00,39.50 C79.27,40.45 85.38,43.40 89.90,46.20 C94.42,49.00 98.10,53.10 101.10,56.30 C104.10,59.50 106.95,62.77 107.90,65.40 C108.85,68.03 110.18,70.98 106.80,72.10 C103.42,73.22 94.18,72.87 87.60,72.10 C81.02,71.33 72.37,68.82 67.30,67.50 C62.23,66.18 59.08,66.07 57.20,64.20 C55.32,62.33 55.63,58.75 56.00,56.30 C56.37,53.85 59.02,52.13 59.40,49.50 C59.78,46.87 55.87,42.17 58.30,40.50Z" fill="#c4cc50" filter="url(#b1)" opacity="0.6" />
<path d="M65.00,42.50 C66.67,41.17 74.67,40.67 79.00,41.50 C83.33,42.33 87.67,45.00 91.00,47.50 C94.33,50.00 99.00,54.50 99.00,56.50 C99.00,58.50 94.33,60.00 91.00,59.50 C87.67,59.00 82.67,55.17 79.00,53.50 C75.33,51.83 71.33,51.33 69.00,49.50 C66.67,47.67 63.33,43.83 65.00,42.50Z" fill="#d0da36" filter="url(#b1)" opacity="0.4" />
<ellipse cx="63" cy="59.5" rx="4" ry="4" fill="#ccd638" filter="url(#b1)" opacity="0.4"/>
<path d="M58.30,40.50 C60.73,38.83 68.73,38.55 74.00,39.50 C79.27,40.45 85.38,43.40 89.90,46.20 C94.42,49.00 98.10,53.10 101.10,56.30 C104.10,59.50 106.95,62.77 107.90,65.40 C108.85,68.03 110.18,70.98 106.80,72.10 C103.42,73.22 94.18,72.87 87.60,72.10 C81.02,71.33 72.37,68.82 67.30,67.50 C62.23,66.18 59.08,66.07 57.20,64.20 C55.32,62.33 55.63,58.75 56.00,56.30 C56.37,53.85 59.02,52.13 59.40,49.50 C59.78,46.87 55.87,42.17 58.30,40.50Z" fill="#bccb1e" filter="url(#blotch)" opacity="0.85" />
<path d="M90.50,59.50 C91.47,58.42 93.92,59.00 95.00,60.00 C96.08,61.00 96.90,63.58 97.00,65.50 C97.10,67.42 96.68,70.47 95.60,71.50 C94.52,72.53 91.57,72.53 90.50,71.70 C89.43,70.87 89.20,68.53 89.20,66.50 C89.20,64.47 89.53,60.58 90.50,59.50Z" fill="#cc8a50" filter="url(#b05)" opacity="0.8" />
<ellipse cx="93.5" cy="64.5" rx="1.5" ry="3.4" fill="#e6c890" filter="url(#b05)" opacity="0.9"/>
<ellipse cx="90.2" cy="69.0" rx="1.1" ry="2.0" fill="#b8503a" filter="url(#b05)" opacity="0.8"/>
<text x="57.19999999999999" y="26.0" font-size="7.6" font-weight="bold" fill="#111" textLength="14.8" lengthAdjust="spacingAndGlyphs">GPE</text>
</g>
<g transform="translate(371,216)" clip-path="url(#cD)">
<rect x="-2" y="-2" width="160" height="104" fill="#b9b9b9"/>
<path d="M27.00,-2.00 C49.23,-4.67 135.33,-4.33 157.00,-2.00 C178.67,0.33 166.67,9.67 157.00,12.00 C147.33,14.33 112.83,12.67 99.00,12.00 C85.17,11.33 81.50,7.67 74.00,8.00 C66.50,8.33 58.17,7.67 54.00,14.00 C49.83,20.33 52.00,40.67 49.00,46.00 C46.00,51.33 38.08,48.67 36.00,46.00 C33.92,43.33 37.00,34.27 36.50,30.00 C36.00,25.73 35.15,23.07 33.00,20.40 C30.85,17.73 24.60,17.73 23.60,14.00 C22.60,10.27 4.77,0.67 27.00,-2.00Z" fill="#9c9c9c" filter="url(#b1)" />
<path d="M-2.00,-2.00 C3.00,-10.67 23.73,-4.67 28.00,-2.00 C32.27,0.67 22.77,10.27 23.60,14.00 C24.43,17.73 30.85,17.73 33.00,20.40 C35.15,23.07 36.25,25.73 36.50,30.00 C36.75,34.27 36.58,42.67 34.50,46.00 C32.42,49.33 30.08,49.33 24.00,50.00 C17.92,50.67 2.33,58.67 -2.00,50.00 C-6.33,41.33 -7.00,6.67 -2.00,-2.00Z" fill="#dedede" filter="url(#b1)" />
<ellipse cx="26" cy="32" rx="8" ry="12" fill="#e8e8e8" filter="url(#b2)"/>
<ellipse cx="17" cy="6" rx="9" ry="6" fill="#e8e8e8" filter="url(#b2)"/>
<path d="M-2.00,-2.00 C-0.50,-10.00 6.00,-4.67 7.00,-2.00 C8.00,0.67 5.17,6.00 4.00,14.00 C2.83,22.00 1.00,40.67 0.00,46.00 C-1.00,51.33 -1.67,54.00 -2.00,46.00 C-2.33,38.00 -3.50,6.00 -2.00,-2.00Z" fill="#e6e6e6" filter="url(#b05)" />
<path d="M11.5,-1 C8,5 5,11 3.5,17" fill="none" stroke="#151515" stroke-width="1.6" filter="url(#b05)"/>
<path d="M3.00,25.00 C3.33,23.92 5.08,24.17 6.00,24.50 C6.92,24.83 7.83,25.75 8.50,27.00 C9.17,28.25 9.83,30.33 10.00,32.00 C10.17,33.67 9.42,35.33 9.50,37.00 C9.58,38.67 10.75,40.50 10.50,42.00 C10.25,43.50 9.08,45.17 8.00,46.00 C6.92,46.83 5.17,47.17 4.00,47.00 C2.83,46.83 1.00,46.00 1.00,45.00 C1.00,44.00 3.25,42.50 4.00,41.00 C4.75,39.50 5.50,37.67 5.50,36.00 C5.50,34.33 4.42,32.83 4.00,31.00 C3.58,29.17 2.67,26.08 3.00,25.00Z" fill="#141414" filter="url(#b05)" />
<circle cx="5.600000000000023" cy="23.599999999999994" r="1.7" fill="#ddd" stroke="#222" stroke-width="0.8"/>
<circle cx="3.1999999999999886" cy="17.80000000000001" r="1.2" fill="none" stroke="#333" stroke-width="0.6"/>
<path d="M36.00,34.00 C37.00,31.33 40.83,31.67 43.00,32.00 C45.17,32.33 48.00,33.33 49.00,36.00 C50.00,38.67 51.00,46.00 49.00,48.00 C47.00,50.00 39.17,50.33 37.00,48.00 C34.83,45.67 35.00,36.67 36.00,34.00Z" fill="#cacaca" filter="url(#b1)" />
<path d="M98.60,13.00 C100.07,11.27 103.93,10.42 109.00,10.00 C114.07,9.58 121.33,10.58 129.00,10.50 C136.67,10.42 150.67,6.55 155.00,9.50 C159.33,12.45 157.63,25.35 155.00,28.20 C152.37,31.05 145.73,26.60 139.20,26.60 C132.67,26.60 122.30,29.23 115.80,28.20 C109.30,27.17 103.07,22.93 100.20,20.40 C97.33,17.87 97.13,14.73 98.60,13.00Z" fill="#e0e0e0" filter="url(#b1)" />
<path d="M101.00,14.00 C103.50,13.00 111.00,12.33 119.00,12.00 C127.00,11.67 144.00,11.33 149.00,12.00 C154.00,12.67 154.00,15.33 149.00,16.00 C144.00,16.67 126.50,15.67 119.00,16.00 C111.50,16.33 107.00,18.33 104.00,18.00 C101.00,17.67 98.50,15.00 101.00,14.00Z" fill="#e8e8e8" filter="url(#b1)" />
<path d="M109.60000000000002,17.30000000000001 C119,19 127,21.5 134,21.80000000000001 C141,21.5 147,20 151,19.599999999999994" fill="none" stroke="#2a2a2a" stroke-width="0.9"/>
<ellipse cx="131" cy="21.4" rx="3.5" ry="1" fill="#111" filter="url(#b05)"/>
<path d="M155.00,23.00 C154.58,22.58 152.50,24.25 152.50,25.00 C152.50,25.75 154.58,27.83 155.00,27.50 C155.42,27.17 155.42,23.42 155.00,23.00Z" fill="#111" filter="url(#b05)" />
<path d="M99.00,30.00 C103.67,26.67 119.67,29.00 129.00,29.00 C138.33,29.00 150.67,20.83 155.00,30.00 C159.33,39.17 158.50,76.33 155.00,84.00 C151.50,91.67 140.83,79.33 134.00,76.00 C127.17,72.67 119.50,68.50 114.00,64.00 C108.50,59.50 103.50,54.67 101.00,49.00 C98.50,43.33 94.33,33.33 99.00,30.00Z" fill="#b8b8b8" filter="url(#b2)" />
<path d="M141.00,32.00 C143.33,28.33 152.67,23.33 155.00,32.00 C157.33,40.67 156.33,77.00 155.00,84.00 C153.67,91.00 149.33,79.00 147.00,74.00 C144.67,69.00 142.00,61.00 141.00,54.00 C140.00,47.00 138.67,35.67 141.00,32.00Z" fill="#cdcdcd" filter="url(#b2)" />
<ellipse cx="131.4" cy="40.7" rx="0.8" ry="0.8" fill="#333"/>
<ellipse cx="137.6" cy="38.3" rx="0.6" ry="0.6" fill="#444"/>
<path d="M-2.00,46.00 C4.83,37.00 31.83,43.00 39.00,46.00 C46.17,49.00 40.67,55.00 41.00,64.00 C41.33,73.00 48.17,94.00 41.00,100.00 C33.83,106.00 5.17,109.00 -2.00,100.00 C-9.17,91.00 -8.83,55.00 -2.00,46.00Z" fill="#bdbdbd" filter="url(#b1)" />
<path d="M-2.00,47.70 C0.67,46.53 8.38,47.53 14.00,48.00 C19.62,48.47 28.87,49.75 31.70,50.50 C34.53,51.25 33.95,51.87 31.00,52.50 C28.05,53.13 19.50,53.88 14.00,54.30 C8.50,54.72 0.67,56.10 -2.00,55.00 C-4.67,53.90 -4.67,48.87 -2.00,47.70Z" fill="#111" filter="url(#b05)" />
<path d="M5.30,56.20 C6.30,54.30 10.53,55.65 13.00,55.60 C15.47,55.55 18.68,54.50 20.10,55.90 C21.52,57.30 21.35,60.82 21.50,64.00 C21.65,67.18 21.50,72.08 21.00,75.00 C20.50,77.92 19.83,80.33 18.50,81.50 C17.17,82.67 14.42,82.75 13.00,82.00 C11.58,81.25 11.00,79.50 10.00,77.00 C9.00,74.50 7.78,70.47 7.00,67.00 C6.22,63.53 4.30,58.10 5.30,56.20Z" fill="#0b0b0b" filter="url(#b05)" />
<ellipse cx="8.5" cy="85" rx="5" ry="1.4" fill="#8a8a8a" filter="url(#b05)"/>
<ellipse cx="22.5" cy="84" rx="4" ry="1.5" fill="#8a8a8a" filter="url(#b05)"/>
<ellipse cx="17.2" cy="94" rx="6.5" ry="4" fill="#2a2a2a" filter="url(#b05)"/>
<ellipse cx="15" cy="95" rx="1" ry="0.8" fill="#bbb"/>
<ellipse cx="20" cy="93" rx="1" ry="0.8" fill="#bbb"/>
<ellipse cx="33.3" cy="73" rx="5" ry="6" fill="#a5a5a5" filter="url(#b1)"/>
<path d="M69.00,84.00 C71.50,81.00 79.33,82.00 84.00,82.00 C88.67,82.00 90.42,83.33 97.00,84.00 C103.58,84.67 118.17,84.33 123.50,86.00 C128.83,87.67 128.75,91.67 129.00,94.00 C129.25,96.33 135.00,99.00 125.00,100.00 C115.00,101.00 78.33,102.67 69.00,100.00 C59.67,97.33 66.50,87.00 69.00,84.00Z" fill="#7c7c7c" filter="url(#b1)" />
<path d="M97.00,85.00 C98.67,82.50 104.67,83.50 109.00,84.00 C113.33,84.50 120.33,85.67 123.00,88.00 C125.67,90.33 129.00,96.17 125.00,98.00 C121.00,99.83 103.67,101.17 99.00,99.00 C94.33,96.83 95.33,87.50 97.00,85.00Z" fill="#5c5c5c" filter="url(#b1)" />
<path d="M115.00,46.00 C121.33,42.17 148.33,39.67 155.00,46.00 C161.67,52.33 157.67,76.67 155.00,84.00 C152.33,91.33 144.17,90.67 139.00,90.00 C133.83,89.33 127.67,83.50 124.00,80.00 C120.33,76.50 118.50,74.67 117.00,69.00 C115.50,63.33 108.67,49.83 115.00,46.00Z" fill="#c6c6c6" filter="url(#b2)" />
<path d="M120.00,78.00 C120.67,76.57 126.17,76.90 129.00,77.40 C131.83,77.90 135.17,79.40 137.00,81.00 C138.83,82.60 140.33,85.40 140.00,87.00 C139.67,88.60 137.50,90.77 135.00,90.60 C132.50,90.43 127.50,88.10 125.00,86.00 C122.50,83.90 119.33,79.43 120.00,78.00Z" fill="#e2e2e2" filter="url(#b1)" />
<path d="M79.00,71.00 C81.50,68.67 88.83,69.50 94.00,70.00 C99.17,70.50 107.17,71.17 110.00,74.00 C112.83,76.83 113.67,84.50 111.00,87.00 C108.33,89.50 99.33,89.50 94.00,89.00 C88.67,88.50 81.50,87.00 79.00,84.00 C76.50,81.00 76.50,73.33 79.00,71.00Z" fill="#dadada" filter="url(#b1)" />
<path d="M151.50,47.70 C152.08,47.32 154.42,46.80 155.00,47.20 C155.58,47.60 155.58,49.72 155.00,50.10 C154.42,50.48 152.08,49.90 151.50,49.50 C150.92,49.10 150.92,48.08 151.50,47.70Z" fill="#111" filter="url(#b05)" />
<rect x="-1" y="-1" width="158" height="102" filter="url(#noise)" opacity="0.12"/>
<path d="M47.00,28.00 C47.00,25.83 48.00,22.03 48.50,20.00 C49.00,17.97 48.17,17.42 50.00,15.80 C51.83,14.18 55.83,11.48 59.50,10.30 C63.17,9.12 68.85,8.97 72.00,8.70 C75.15,8.43 76.03,7.78 78.40,8.70 C80.77,9.62 83.87,11.73 86.20,14.20 C88.53,16.67 90.60,20.13 92.40,23.50 C94.20,26.87 95.43,30.48 97.00,34.40 C98.57,38.32 100.13,42.90 101.80,47.00 C103.47,51.10 105.13,55.17 107.00,59.00 C108.87,62.83 111.63,67.22 113.00,70.00 C114.37,72.78 115.87,74.70 115.20,75.70 C114.53,76.70 111.37,77.62 109.00,76.00 C106.63,74.38 103.33,69.67 101.00,66.00 C98.67,62.33 97.33,58.00 95.00,54.00 C92.67,50.00 89.67,45.33 87.00,42.00 C84.33,38.67 82.00,36.00 79.00,34.00 C76.00,32.00 72.67,30.67 69.00,30.00 C65.33,29.33 60.42,29.50 57.00,30.00 C53.58,30.50 50.17,33.33 48.50,33.00 C46.83,32.67 47.00,30.17 47.00,28.00Z" fill="url(#gGPE)" filter="url(#b05)" opacity="0.92" stroke="#9a9a9a" stroke-width="0.4"/>
<path d="M53.00,16.00 C53.00,15.33 57.50,12.83 61.00,12.00 C64.50,11.17 70.17,10.33 74.00,11.00 C77.83,11.67 84.00,15.17 84.00,16.00 C84.00,16.83 77.83,16.00 74.00,16.00 C70.17,16.00 64.50,16.00 61.00,16.00 C57.50,16.00 53.00,16.67 53.00,16.00Z" fill="#e2dfda" filter="url(#b1)" opacity="0.7" />
<path d="M50.00,36.00 C51.33,33.92 53.83,32.33 57.00,31.50 C60.17,30.67 65.00,30.58 69.00,31.00 C73.00,31.42 77.33,32.17 81.00,34.00 C84.67,35.83 88.00,39.00 91.00,42.00 C94.00,45.00 97.17,48.58 99.00,52.00 C100.83,55.42 102.87,59.92 102.00,62.50 C101.13,65.08 97.63,66.92 93.80,67.50 C89.97,68.08 83.80,67.25 79.00,66.00 C74.20,64.75 69.17,62.33 65.00,60.00 C60.83,57.67 56.67,54.67 54.00,52.00 C51.33,49.33 49.67,46.67 49.00,44.00 C48.33,41.33 48.67,38.08 50.00,36.00Z" fill="#d2cfcc" filter="url(#b05)" opacity="0.9" />
<path d="M73.00,33.00 C75.00,31.42 78.33,31.67 81.00,32.50 C83.67,33.33 86.67,35.75 89.00,38.00 C91.33,40.25 93.33,43.00 95.00,46.00 C96.67,49.00 98.67,53.00 99.00,56.00 C99.33,59.00 98.67,62.17 97.00,64.00 C95.33,65.83 92.00,66.83 89.00,67.00 C86.00,67.17 81.67,66.33 79.00,65.00 C76.33,63.67 75.33,60.17 73.00,59.00 C70.67,57.83 67.17,59.17 65.00,58.00 C62.83,56.83 60.50,54.33 60.00,52.00 C59.50,49.67 60.50,45.67 62.00,44.00 C63.50,42.33 67.17,43.83 69.00,42.00 C70.83,40.17 71.00,34.58 73.00,33.00Z" fill="#c2ca44" filter="url(#b05)" opacity="0.7" stroke="#cdd63a" stroke-width="0.7"/>
<ellipse cx="84" cy="42" rx="7" ry="6" fill="#d0d83c" filter="url(#b1)" opacity="0.45"/>
<path d="M73.00,33.00 C75.00,31.42 78.33,31.67 81.00,32.50 C83.67,33.33 86.67,35.75 89.00,38.00 C91.33,40.25 93.33,43.00 95.00,46.00 C96.67,49.00 98.67,53.00 99.00,56.00 C99.33,59.00 98.67,62.17 97.00,64.00 C95.33,65.83 92.00,66.83 89.00,67.00 C86.00,67.17 81.67,66.33 79.00,65.00 C76.33,63.67 75.33,60.17 73.00,59.00 C70.67,57.83 67.17,59.17 65.00,58.00 C62.83,56.83 60.50,54.33 60.00,52.00 C59.50,49.67 60.50,45.67 62.00,44.00 C63.50,42.33 67.17,43.83 69.00,42.00 C70.83,40.17 71.00,34.58 73.00,33.00Z" fill="#bccb1e" filter="url(#blotch)" opacity="0.7" />
<path d="M41.60,79.00 C41.48,76.57 42.40,74.23 43.30,72.40 C44.20,70.57 45.07,69.10 47.00,68.00 C48.93,66.90 52.23,66.30 54.90,65.80 C57.57,65.30 60.32,64.80 63.00,65.00 C65.68,65.20 69.00,65.50 71.00,67.00 C73.00,68.50 74.38,71.17 75.00,74.00 C75.62,76.83 75.70,80.95 74.70,84.00 C73.70,87.05 72.45,90.97 69.00,92.30 C65.55,93.63 58.17,92.88 54.00,92.00 C49.83,91.12 46.07,89.17 44.00,87.00 C41.93,84.83 41.72,81.43 41.60,79.00Z" fill="#dad7d0" filter="url(#b05)" opacity="0.95" />
<path d="M53.00,70.00 C55.00,68.58 60.00,67.67 63.00,67.50 C66.00,67.33 69.00,67.58 71.00,69.00 C73.00,70.42 74.38,73.50 75.00,76.00 C75.62,78.50 75.70,81.33 74.70,84.00 C73.70,86.67 71.95,91.00 69.00,92.00 C66.05,93.00 60.17,91.33 57.00,90.00 C53.83,88.67 51.00,86.33 50.00,84.00 C49.00,81.67 50.50,78.33 51.00,76.00 C51.50,73.67 51.00,71.42 53.00,70.00Z" fill="#c4ca5c" filter="url(#b05)" opacity="0.65" stroke="#ccd440" stroke-width="0.7"/>
<path d="M86.1,45.5 C83.8,53.4 64.4,77.3 56.0,84.4" fill="none" stroke="#a22222" stroke-width="0.45" opacity="0.9"/>
<path d="M90.8,46.6 C89.1,49.1 70.1,79.3 64.9,83.1" fill="none" stroke="#a22222" stroke-width="0.45" opacity="0.9"/>
<path d="M92.7,46.2 C92.6,55.9 64.8,73.3 54.1,82.1" fill="none" stroke="#a22222" stroke-width="0.45" opacity="0.9"/>
<path d="M94.6,45.3 C90.9,53.1 76.9,59.8 65.1,70.2" fill="none" stroke="#a22222" stroke-width="0.45" opacity="0.9"/>
<path d="M91.9,46.2 C88.5,50.2 61.4,79.7 56.3,84.0" fill="none" stroke="#a22222" stroke-width="0.45" opacity="0.9"/>
<path d="M92.9,46.0 C92.4,51.6 69.9,61.6 60.1,68.4" fill="none" stroke="#a22222" stroke-width="0.45" opacity="0.9"/>
<path d="M90.0,46.8 C89.4,48.4 69.1,71.4 64.8,73.8" fill="none" stroke="#d06060" stroke-width="0.45" opacity="0.9"/>
<path d="M95.0,45.2 C91.5,52.8 74.9,65.4 64.9,70.3" fill="none" stroke="#a22222" stroke-width="0.45" opacity="0.9"/>
<path d="M97.4,46.9 C94.4,54.7 64.6,69.4 57.4,75.9" fill="none" stroke="#d06060" stroke-width="0.45" opacity="0.9"/>
<path d="M83.6,45.4 C80.0,49.7 76.7,65.8 65.4,73.0" fill="none" stroke="#d06060" stroke-width="0.45" opacity="0.9"/>
<path d="M95.0,46.5 C94.9,49.3 66.2,60.6 56.9,71.0" fill="none" stroke="#a22222" stroke-width="0.45" opacity="0.9"/>
<path d="M90.6,45.3 C87.9,47.5 70.9,67.1 58.9,72.1" fill="none" stroke="#a22222" stroke-width="0.45" opacity="0.9"/>
<path d="M90.3,46.0 C87.0,47.3 79.2,82.5 70.5,84.1" fill="none" stroke="#a22222" stroke-width="0.45" opacity="0.9"/>
<path d="M89.3,46.3 C86.2,48.0 64.3,76.1 56.2,81.1" fill="none" stroke="#a22222" stroke-width="0.45" opacity="0.9"/>
<path d="M93.4,46.8 C92.8,56.4 78.2,70.8 69.3,73.5" fill="none" stroke="#d06060" stroke-width="0.45" opacity="0.9"/>
<path d="M83.7,46.2 C80.9,49.6 66.5,77.3 58.5,82.4" fill="none" stroke="#a22222" stroke-width="0.45" opacity="0.9"/>
<path d="M81.4,45.9 C77.6,55.2 58.7,74.2 54.3,76.9" fill="none" stroke="#a22222" stroke-width="0.45" opacity="0.9"/>
<path d="M94.0,45.1 C90.8,49.3 73.6,62.2 66.7,71.5" fill="none" stroke="#d06060" stroke-width="0.45" opacity="0.9"/>
<path d="M82.3,46.7 C79.7,53.1 66.5,67.9 62.2,70.7" fill="none" stroke="#a22222" stroke-width="0.45" opacity="0.9"/>
<path d="M77.6,46.5 C76.8,52.8 74.8,70.8 66.1,74.9" fill="none" stroke="#a22222" stroke-width="0.45" opacity="0.9"/>
<path d="M90.6,46.4 C88.7,55.0 66.8,68.8 56.4,71.3" fill="none" stroke="#a22222" stroke-width="0.45" opacity="0.9"/>
<path d="M94.1,45.2 C90.8,56.2 69.4,65.7 60.0,69.2" fill="none" stroke="#a22222" stroke-width="0.45" opacity="0.9"/>
<path d="M96.1,45.2 C92.6,47.9 64.9,64.2 59.7,74.3" fill="none" stroke="#d06060" stroke-width="0.45" opacity="0.9"/>
<path d="M84.6,46.8 C83.8,56.8 70.4,80.8 58.6,83.1" fill="none" stroke="#a22222" stroke-width="0.45" opacity="0.9"/>
<path d="M98.5,46.8 C95.1,55.6 77.1,63.6 70.3,73.0" fill="none" stroke="#d06060" stroke-width="0.45" opacity="0.9"/>
<path d="M88.3,46.1 C87.3,53.9 77.2,68.4 69.0,76.7" fill="none" stroke="#a22222" stroke-width="0.45" opacity="0.9"/>
<path d="M92.5,55.1 C89.6,60.8 72.5,59.4 63.4,67.6" fill="none" stroke="#b02c2c" stroke-width="0.4" opacity="0.85"/>
<path d="M81.5,55.4 C80.7,60.9 73.4,57.6 67.1,64.4" fill="none" stroke="#b02c2c" stroke-width="0.4" opacity="0.85"/>
<path d="M95.6,55.0 C94.2,55.6 81.6,69.5 71.9,75.2" fill="none" stroke="#b02c2c" stroke-width="0.4" opacity="0.85"/>
<path d="M82.7,56.7 C79.8,61.1 78.4,71.7 68.7,76.9" fill="none" stroke="#b02c2c" stroke-width="0.4" opacity="0.85"/>
<path d="M95.9,56.2 C93.1,55.7 76.6,67.1 72.8,73.2" fill="none" stroke="#b02c2c" stroke-width="0.4" opacity="0.85"/>
<path d="M85.2,55.2 C83.7,57.9 67.1,67.8 63.4,74.2" fill="none" stroke="#d06060" stroke-width="0.4" opacity="0.85"/>
<path d="M92.7,56.2 C92.0,59.0 71.7,73.1 61.7,75.7" fill="none" stroke="#b02c2c" stroke-width="0.4" opacity="0.85"/>
<path d="M93.3,56.7 C93.2,58.8 75.6,60.8 71.4,67.7" fill="none" stroke="#d06060" stroke-width="0.4" opacity="0.85"/>
<path d="M96.8,55.6 C93.1,59.2 73.6,63.8 69.5,70.3" fill="none" stroke="#b02c2c" stroke-width="0.4" opacity="0.85"/>
<path d="M85.7,56.2 C84.9,65.1 79.4,62.3 73.4,70.4" fill="none" stroke="#b02c2c" stroke-width="0.4" opacity="0.85"/>
<path d="M83.0,56.3 C82.7,59.1 81.6,67.0 71.7,70.8" fill="none" stroke="#d06060" stroke-width="0.4" opacity="0.85"/>
<path d="M96.5,55.0 C94.3,56.7 77.7,67.0 70.5,74.9" fill="none" stroke="#b02c2c" stroke-width="0.4" opacity="0.85"/>
<text x="68.80000000000001" y="22.19999999999999" font-size="7.6" font-weight="bold" fill="#111" textLength="14.6" lengthAdjust="spacingAndGlyphs">GPE</text>
</g>
<path d="M215.20,136.13 L217.99,135.46 L220.78,134.79 L223.57,134.12 L226.36,133.45 L229.15,132.77 L231.94,132.09 L234.73,131.41 L237.52,130.71 L240.31,130.02 L243.10,129.31 L245.89,128.60 L248.68,127.87 L251.47,127.14 L254.26,126.39 L257.05,125.63 L259.84,124.84 L262.63,124.04 L265.42,123.21 L268.21,122.35 L271.00,121.46 L273.79,120.54 L276.58,119.57 L279.37,118.57 L282.16,117.52 L284.95,116.43 L287.74,115.30 L290.53,114.14 L293.32,112.94 L296.11,111.72 L298.90,110.46 L301.69,109.19 L304.48,107.90 L307.27,106.59 L310.06,105.26 L312.85,103.93 L315.64,102.58 L318.43,101.23 L321.22,99.87 L324.01,98.50 L326.80,97.13 L326.80,112.47 L324.01,113.16 L321.22,113.85 L318.43,114.55 L315.64,115.26 L312.85,115.97 L310.06,116.70 L307.27,117.43 L304.48,118.18 L301.69,118.95 L298.90,119.74 L296.11,120.54 L293.32,121.38 L290.53,122.24 L287.74,123.14 L284.95,124.07 L282.16,125.04 L279.37,126.05 L276.58,127.11 L273.79,128.20 L271.00,129.34 L268.21,130.51 L265.42,131.71 L262.63,132.94 L259.84,134.20 L257.05,135.47 L254.26,136.77 L251.47,138.08 L248.68,139.41 L245.89,140.74 L243.10,142.09 L240.31,143.44 L237.52,144.81 L234.73,146.17 L231.94,147.55 L229.15,148.93 L226.36,150.31 L223.57,151.70 L220.78,153.09 L217.99,154.48 L215.20,154.50Z" fill="#e0e0e0"/>
<path d="M209.5,70.5 L209.5,154.5 L331.5,154.5" fill="none" stroke="#adadad" stroke-width="0.9"/>
<line x1="232.80" y1="154.5" x2="232.80" y2="153.3" stroke="#adadad" stroke-width="0.7"/>
<line x1="256.65" y1="154.5" x2="256.65" y2="153.3" stroke="#adadad" stroke-width="0.7"/>
<line x1="280.50" y1="154.5" x2="280.50" y2="153.3" stroke="#adadad" stroke-width="0.7"/>
<line x1="304.35" y1="154.5" x2="304.35" y2="153.3" stroke="#adadad" stroke-width="0.7"/>
<line x1="328.20" y1="154.5" x2="328.20" y2="153.3" stroke="#adadad" stroke-width="0.7"/>
<line x1="209.5" y1="151.50" x2="210.7" y2="151.50" stroke="#adadad" stroke-width="0.7"/>
<line x1="209.5" y1="140.43" x2="210.7" y2="140.43" stroke="#adadad" stroke-width="0.7"/>
<line x1="209.5" y1="129.36" x2="210.7" y2="129.36" stroke="#adadad" stroke-width="0.7"/>
<line x1="209.5" y1="118.29" x2="210.7" y2="118.29" stroke="#adadad" stroke-width="0.7"/>
<line x1="209.5" y1="107.21" x2="210.7" y2="107.21" stroke="#adadad" stroke-width="0.7"/>
<line x1="209.5" y1="96.14" x2="210.7" y2="96.14" stroke="#adadad" stroke-width="0.7"/>
<line x1="209.5" y1="85.07" x2="210.7" y2="85.07" stroke="#adadad" stroke-width="0.7"/>
<line x1="209.5" y1="74.00" x2="210.7" y2="74.00" stroke="#adadad" stroke-width="0.7"/>
<line x1="215.2" y1="146.0" x2="326.8" y2="104.8" stroke="#3a3a3a" stroke-width="0.75"/>
<circle cx="255.0" cy="100.0" r="1.3" fill="#42a6ea"/>
<circle cx="253.8" cy="109.0" r="1.3" fill="#42a6ea"/>
<circle cx="258.3" cy="109.0" r="1.3" fill="#42a6ea"/>
<circle cx="250.8" cy="113.1" r="1.3" fill="#42a6ea"/>
<circle cx="262.4" cy="114.1" r="1.3" fill="#42a6ea"/>
<circle cx="265.8" cy="111.9" r="1.3" fill="#42a6ea"/>
<circle cx="267.8" cy="109.8" r="1.3" fill="#42a6ea"/>
<circle cx="259.4" cy="116.8" r="1.3" fill="#42a6ea"/>
<circle cx="272.9" cy="109.8" r="1.3" fill="#42a6ea"/>
<circle cx="272.9" cy="113.1" r="1.3" fill="#42a6ea"/>
<circle cx="274.4" cy="98.8" r="1.3" fill="#42a6ea"/>
<circle cx="287.7" cy="74.8" r="1.3" fill="#42a6ea"/>
<circle cx="294.5" cy="73.6" r="1.3" fill="#42a6ea"/>
<circle cx="280.8" cy="82.6" r="1.3" fill="#42a6ea"/>
<circle cx="295.8" cy="81.2" r="1.3" fill="#42a6ea"/>
<circle cx="308.3" cy="80.8" r="1.3" fill="#42a6ea"/>
<circle cx="309.8" cy="85.0" r="1.3" fill="#42a6ea"/>
<circle cx="313.6" cy="87.1" r="1.3" fill="#42a6ea"/>
<circle cx="289.1" cy="87.5" r="1.3" fill="#42a6ea"/>
<circle cx="285.3" cy="91.3" r="1.3" fill="#42a6ea"/>
<circle cx="301.2" cy="89.5" r="1.3" fill="#42a6ea"/>
<circle cx="289.1" cy="96.5" r="1.3" fill="#42a6ea"/>
<circle cx="295.1" cy="95.0" r="1.3" fill="#42a6ea"/>
<circle cx="275.3" cy="100.6" r="1.3" fill="#42a6ea"/>
<circle cx="279.8" cy="101.8" r="1.3" fill="#42a6ea"/>
<circle cx="318.8" cy="97.3" r="1.3" fill="#42a6ea"/>
<circle cx="320.3" cy="101.0" r="1.3" fill="#42a6ea"/>
<circle cx="322.6" cy="103.0" r="1.3" fill="#42a6ea"/>
<circle cx="296.3" cy="104.5" r="1.3" fill="#42a6ea"/>
<circle cx="301.5" cy="103.8" r="1.3" fill="#42a6ea"/>
<circle cx="308.0" cy="103.0" r="1.3" fill="#42a6ea"/>
<circle cx="284.7" cy="109.0" r="1.3" fill="#42a6ea"/>
<circle cx="282.8" cy="111.1" r="1.3" fill="#42a6ea"/>
<circle cx="282.3" cy="112.6" r="1.3" fill="#42a6ea"/>
<circle cx="288.0" cy="113.8" r="1.3" fill="#42a6ea"/>
<circle cx="282.3" cy="115.8" r="1.3" fill="#42a6ea"/>
<circle cx="323.8" cy="107.8" r="1.3" fill="#42a6ea"/>
<circle cx="323.8" cy="110.1" r="1.3" fill="#42a6ea"/>
<circle cx="312.1" cy="114.3" r="1.3" fill="#42a6ea"/>
<circle cx="322.9" cy="116.8" r="1.3" fill="#42a6ea"/>
<circle cx="240.8" cy="121.0" r="1.3" fill="#42a6ea"/>
<circle cx="262.4" cy="120.5" r="1.3" fill="#42a6ea"/>
<circle cx="269.9" cy="120.2" r="1.3" fill="#42a6ea"/>
<circle cx="228.3" cy="126.8" r="1.3" fill="#42a6ea"/>
<circle cx="259.4" cy="127.0" r="1.3" fill="#42a6ea"/>
<circle cx="257.3" cy="128.0" r="1.3" fill="#42a6ea"/>
<circle cx="255.3" cy="129.5" r="1.3" fill="#42a6ea"/>
<circle cx="265.1" cy="128.0" r="1.3" fill="#42a6ea"/>
<circle cx="269.1" cy="124.6" r="1.3" fill="#42a6ea"/>
<circle cx="273.3" cy="124.3" r="1.3" fill="#42a6ea"/>
<circle cx="237.0" cy="134.0" r="1.3" fill="#42a6ea"/>
<circle cx="260.9" cy="132.8" r="1.3" fill="#42a6ea"/>
<circle cx="256.8" cy="131.8" r="1.3" fill="#42a6ea"/>
<circle cx="224.1" cy="139.6" r="1.3" fill="#42a6ea"/>
<circle cx="250.5" cy="136.7" r="1.3" fill="#42a6ea"/>
<circle cx="255.8" cy="136.3" r="1.3" fill="#42a6ea"/>
<circle cx="262.8" cy="134.8" r="1.3" fill="#42a6ea"/>
<circle cx="263.6" cy="137.0" r="1.3" fill="#42a6ea"/>
<circle cx="264.3" cy="140.0" r="1.3" fill="#42a6ea"/>
<circle cx="267.3" cy="138.5" r="1.3" fill="#42a6ea"/>
<circle cx="268.8" cy="139.3" r="1.3" fill="#42a6ea"/>
<circle cx="271.1" cy="140.0" r="1.3" fill="#42a6ea"/>
<circle cx="270.8" cy="141.8" r="1.3" fill="#42a6ea"/>
<circle cx="272.3" cy="135.8" r="1.3" fill="#42a6ea"/>
<circle cx="246.3" cy="141.8" r="1.3" fill="#42a6ea"/>
<circle cx="242.6" cy="143.8" r="1.3" fill="#42a6ea"/>
<circle cx="239.1" cy="145.8" r="1.3" fill="#42a6ea"/>
<circle cx="248.6" cy="147.3" r="1.3" fill="#42a6ea"/>
<circle cx="255.6" cy="144.9" r="1.3" fill="#42a6ea"/>
<circle cx="258.3" cy="147.3" r="1.3" fill="#42a6ea"/>
<circle cx="261.3" cy="149.4" r="1.3" fill="#42a6ea"/>
<circle cx="253.8" cy="150.9" r="1.3" fill="#42a6ea"/>
<circle cx="265.1" cy="145.3" r="1.3" fill="#42a6ea"/>
<circle cx="266.6" cy="144.9" r="1.3" fill="#42a6ea"/>
<circle cx="271.8" cy="146.1" r="1.3" fill="#42a6ea"/>
<circle cx="271.8" cy="149.8" r="1.3" fill="#42a6ea"/>
<circle cx="274.1" cy="145.8" r="1.3" fill="#42a6ea"/>
<circle cx="215.2" cy="147.6" r="1.3" fill="#42a6ea"/>
<circle cx="276.8" cy="119.0" r="1.3" fill="#42a6ea"/>
<circle cx="278.3" cy="121.3" r="1.3" fill="#42a6ea"/>
<circle cx="279.8" cy="122.0" r="1.3" fill="#42a6ea"/>
<circle cx="276.3" cy="125.0" r="1.3" fill="#42a6ea"/>
<circle cx="275.7" cy="128.8" r="1.3" fill="#42a6ea"/>
<circle cx="288.8" cy="124.0" r="1.3" fill="#42a6ea"/>
<circle cx="289.5" cy="130.0" r="1.3" fill="#42a6ea"/>
<circle cx="282.8" cy="131.0" r="1.3" fill="#42a6ea"/>
<circle cx="282.0" cy="132.8" r="1.3" fill="#42a6ea"/>
<circle cx="286.8" cy="134.0" r="1.3" fill="#42a6ea"/>
<circle cx="287.7" cy="137.0" r="1.3" fill="#42a6ea"/>
<circle cx="276.8" cy="137.8" r="1.3" fill="#42a6ea"/>
<circle cx="279.8" cy="138.2" r="1.3" fill="#42a6ea"/>
<circle cx="282.0" cy="137.0" r="1.3" fill="#42a6ea"/>
<circle cx="274.8" cy="142.0" r="1.3" fill="#42a6ea"/>
<circle cx="278.3" cy="141.5" r="1.3" fill="#42a6ea"/>
<circle cx="277.8" cy="145.3" r="1.3" fill="#42a6ea"/>
<circle cx="279.3" cy="144.5" r="1.3" fill="#42a6ea"/>
<circle cx="275.7" cy="147.3" r="1.3" fill="#42a6ea"/>
<circle cx="279.0" cy="148.0" r="1.3" fill="#42a6ea"/>
<circle cx="323.3" cy="120.2" r="1.3" fill="#42a6ea"/>
<circle cx="314.8" cy="125.0" r="1.3" fill="#42a6ea"/>
<circle cx="313.3" cy="127.0" r="1.3" fill="#42a6ea"/>
<circle cx="322.6" cy="131.8" r="1.3" fill="#42a6ea"/>
<circle cx="315.8" cy="135.5" r="1.3" fill="#42a6ea"/>
<circle cx="324.8" cy="137.3" r="1.3" fill="#42a6ea"/>
<circle cx="326.8" cy="138.2" r="1.3" fill="#42a6ea"/>
<text x="232.80" y="161.50" font-size="7.25" text-anchor="middle" fill="#262626" font-weight="normal" stroke="#262626" stroke-width="0.18" >0.6</text>
<text x="256.65" y="161.50" font-size="7.25" text-anchor="middle" fill="#262626" font-weight="normal" stroke="#262626" stroke-width="0.18" >0.7</text>
<text x="280.50" y="161.50" font-size="7.25" text-anchor="middle" fill="#262626" font-weight="normal" stroke="#262626" stroke-width="0.18" >0.8</text>
<text x="304.35" y="161.50" font-size="7.25" text-anchor="middle" fill="#262626" font-weight="normal" stroke="#262626" stroke-width="0.18" >0.9</text>
<text x="328.20" y="161.50" font-size="7.25" text-anchor="middle" fill="#262626" font-weight="normal" stroke="#262626" stroke-width="0.18" >1</text>
<text x="208.50" y="154.59" font-size="7.25" text-anchor="end" fill="#262626" font-weight="normal" stroke="#262626" stroke-width="0.18" >0</text>
<text x="208.50" y="143.52" font-size="7.25" text-anchor="end" fill="#262626" font-weight="normal" stroke="#262626" stroke-width="0.18" >20</text>
<text x="208.50" y="132.45" font-size="7.25" text-anchor="end" fill="#262626" font-weight="normal" stroke="#262626" stroke-width="0.18" >40</text>
<text x="208.50" y="121.38" font-size="7.25" text-anchor="end" fill="#262626" font-weight="normal" stroke="#262626" stroke-width="0.18" >60</text>
<text x="208.50" y="110.31" font-size="7.25" text-anchor="end" fill="#262626" font-weight="normal" stroke="#262626" stroke-width="0.18" >80</text>
<text x="208.50" y="99.24" font-size="7.25" text-anchor="end" fill="#262626" font-weight="normal" stroke="#262626" stroke-width="0.18" >100</text>
<text x="208.50" y="88.16" font-size="7.25" text-anchor="end" fill="#262626" font-weight="normal" stroke="#262626" stroke-width="0.18" >120</text>
<text x="208.50" y="77.09" font-size="7.25" text-anchor="end" fill="#262626" font-weight="normal" stroke="#262626" stroke-width="0.18" >140</text>
<text x="227.80" y="55.70" font-size="7.25" text-anchor="start" fill="#141414" font-weight="normal" stroke="#141414" stroke-width="0.18" textLength="85.0" lengthAdjust="spacingAndGlyphs" >SWEETSPOT 10-FOLD CV</text>
<text x="210.50" y="64.90" font-size="7.25" text-anchor="start" fill="#141414" font-weight="normal" stroke="#141414" stroke-width="0.18" textLength="114.6" lengthAdjust="spacingAndGlyphs" >SPEARMAN: [R = 0.47; P = 2.000e-4]</text>
<text x="270.00" y="169.60" font-size="7.4" text-anchor="middle" fill="#141414" font-weight="normal" stroke="#141414" stroke-width="0.18" textLength="40.0" lengthAdjust="spacingAndGlyphs" >ACCURACY</text>
<g transform="translate(194.6,112.75) rotate(-90)"><text x="0.00" y="0.00" font-size="7.4" text-anchor="middle" fill="#141414" font-weight="normal" stroke="#141414" stroke-width="0.18" textLength="70.5" lengthAdjust="spacingAndGlyphs" >SWEETSPOT-SCORE</text></g>
<path d="M218.50,296.53 L221.21,295.71 L223.93,294.88 L226.64,294.05 L229.35,293.22 L232.06,292.39 L234.78,291.55 L237.49,290.70 L240.20,289.85 L242.91,288.98 L245.62,288.11 L248.34,287.23 L251.05,286.34 L253.76,285.44 L256.48,284.51 L259.19,283.57 L261.90,282.61 L264.61,281.62 L267.32,280.60 L270.04,279.55 L272.75,278.47 L275.46,277.36 L278.18,276.21 L280.89,275.02 L283.60,273.80 L286.31,272.55 L289.02,271.27 L291.74,269.96 L294.45,268.63 L297.16,267.28 L299.88,265.92 L302.59,264.53 L305.30,263.14 L308.01,261.73 L310.73,260.32 L313.44,258.89 L316.15,257.46 L318.86,256.03 L321.57,254.58 L324.29,253.14 L327.00,251.69 L327.00,266.71 L324.29,267.54 L321.57,268.38 L318.86,269.21 L316.15,270.06 L313.44,270.91 L310.73,271.76 L308.01,272.63 L305.30,273.50 L302.59,274.39 L299.88,275.28 L297.16,276.20 L294.45,277.13 L291.74,278.08 L289.02,279.05 L286.31,280.05 L283.60,281.08 L280.89,282.14 L278.18,283.23 L275.46,284.36 L272.75,285.53 L270.04,286.73 L267.32,287.96 L264.61,289.22 L261.90,290.51 L259.19,291.83 L256.48,293.17 L253.76,294.52 L251.05,295.90 L248.34,297.29 L245.62,298.69 L242.91,300.10 L240.20,301.51 L237.49,302.94 L234.78,304.37 L232.06,305.81 L229.35,307.26 L226.64,308.30 L223.93,308.30 L221.21,308.30 L218.50,308.30Z" fill="#e0e0e0"/>
<path d="M213.3,225.7 L213.3,308.3 L332.5,308.3" fill="none" stroke="#adadad" stroke-width="0.9"/>
<line x1="236.40" y1="308.3" x2="236.40" y2="307.1" stroke="#adadad" stroke-width="0.7"/>
<line x1="259.45" y1="308.3" x2="259.45" y2="307.1" stroke="#adadad" stroke-width="0.7"/>
<line x1="282.50" y1="308.3" x2="282.50" y2="307.1" stroke="#adadad" stroke-width="0.7"/>
<line x1="305.55" y1="308.3" x2="305.55" y2="307.1" stroke="#adadad" stroke-width="0.7"/>
<line x1="328.60" y1="308.3" x2="328.60" y2="307.1" stroke="#adadad" stroke-width="0.7"/>
<line x1="213.3" y1="305.20" x2="214.5" y2="305.20" stroke="#adadad" stroke-width="0.7"/>
<line x1="213.3" y1="291.54" x2="214.5" y2="291.54" stroke="#adadad" stroke-width="0.7"/>
<line x1="213.3" y1="277.88" x2="214.5" y2="277.88" stroke="#adadad" stroke-width="0.7"/>
<line x1="213.3" y1="264.22" x2="214.5" y2="264.22" stroke="#adadad" stroke-width="0.7"/>
<line x1="213.3" y1="250.56" x2="214.5" y2="250.56" stroke="#adadad" stroke-width="0.7"/>
<line x1="213.3" y1="236.90" x2="214.5" y2="236.90" stroke="#adadad" stroke-width="0.7"/>
<line x1="218.5" y1="304.8" x2="327.0" y2="259.2" stroke="#3a3a3a" stroke-width="0.75"/>
<circle cx="261.6" cy="229.2" r="1.3" fill="#42a6ea"/>
<circle cx="263.2" cy="244.5" r="1.3" fill="#42a6ea"/>
<circle cx="243.3" cy="269.0" r="1.3" fill="#42a6ea"/>
<circle cx="259.0" cy="268.1" r="1.3" fill="#42a6ea"/>
<circle cx="262.0" cy="267.0" r="1.3" fill="#42a6ea"/>
<circle cx="260.8" cy="271.1" r="1.3" fill="#42a6ea"/>
<circle cx="302.2" cy="229.8" r="1.3" fill="#42a6ea"/>
<circle cx="309.0" cy="232.5" r="1.3" fill="#42a6ea"/>
<circle cx="296.1" cy="237.8" r="1.3" fill="#42a6ea"/>
<circle cx="310.5" cy="237.8" r="1.3" fill="#42a6ea"/>
<circle cx="297.0" cy="241.2" r="1.3" fill="#42a6ea"/>
<circle cx="320.8" cy="240.0" r="1.3" fill="#42a6ea"/>
<circle cx="313.8" cy="243.5" r="1.3" fill="#42a6ea"/>
<circle cx="297.6" cy="245.7" r="1.3" fill="#42a6ea"/>
<circle cx="315.6" cy="248.6" r="1.3" fill="#42a6ea"/>
<circle cx="278.2" cy="252.0" r="1.3" fill="#42a6ea"/>
<circle cx="286.0" cy="251.0" r="1.3" fill="#42a6ea"/>
<circle cx="290.5" cy="249.8" r="1.3" fill="#42a6ea"/>
<circle cx="289.0" cy="253.1" r="1.3" fill="#42a6ea"/>
<circle cx="291.0" cy="254.3" r="1.3" fill="#42a6ea"/>
<circle cx="295.8" cy="252.0" r="1.3" fill="#42a6ea"/>
<circle cx="324.0" cy="254.7" r="1.3" fill="#42a6ea"/>
<circle cx="327.0" cy="256.1" r="1.3" fill="#42a6ea"/>
<circle cx="282.3" cy="265.5" r="1.3" fill="#42a6ea"/>
<circle cx="280.8" cy="269.7" r="1.3" fill="#42a6ea"/>
<circle cx="284.2" cy="269.7" r="1.3" fill="#42a6ea"/>
<circle cx="275.8" cy="271.2" r="1.3" fill="#42a6ea"/>
<circle cx="314.2" cy="262.8" r="1.3" fill="#42a6ea"/>
<circle cx="316.8" cy="261.5" r="1.3" fill="#42a6ea"/>
<circle cx="312.7" cy="266.7" r="1.3" fill="#42a6ea"/>
<circle cx="322.8" cy="264.5" r="1.3" fill="#42a6ea"/>
<circle cx="319.5" cy="268.5" r="1.3" fill="#42a6ea"/>
<circle cx="227.2" cy="288.6" r="1.3" fill="#42a6ea"/>
<circle cx="231.0" cy="290.5" r="1.3" fill="#42a6ea"/>
<circle cx="239.8" cy="295.8" r="1.3" fill="#42a6ea"/>
<circle cx="218.5" cy="304.8" r="1.3" fill="#42a6ea"/>
<circle cx="241.8" cy="303.0" r="1.3" fill="#42a6ea"/>
<circle cx="245.2" cy="302.1" r="1.3" fill="#42a6ea"/>
<circle cx="248.5" cy="302.1" r="1.3" fill="#42a6ea"/>
<circle cx="256.0" cy="301.5" r="1.3" fill="#42a6ea"/>
<circle cx="253.0" cy="295.0" r="1.3" fill="#42a6ea"/>
<circle cx="257.5" cy="296.5" r="1.3" fill="#42a6ea"/>
<circle cx="260.2" cy="303.7" r="1.3" fill="#42a6ea"/>
<circle cx="263.5" cy="302.5" r="1.3" fill="#42a6ea"/>
<circle cx="250.8" cy="283.5" r="1.3" fill="#42a6ea"/>
<circle cx="253.0" cy="281.5" r="1.3" fill="#42a6ea"/>
<circle cx="256.0" cy="282.6" r="1.3" fill="#42a6ea"/>
<circle cx="258.3" cy="281.2" r="1.3" fill="#42a6ea"/>
<circle cx="257.2" cy="277.0" r="1.3" fill="#42a6ea"/>
<circle cx="264.3" cy="275.8" r="1.3" fill="#42a6ea"/>
<circle cx="268.8" cy="277.3" r="1.3" fill="#42a6ea"/>
<circle cx="257.2" cy="288.3" r="1.3" fill="#42a6ea"/>
<circle cx="260.5" cy="287.2" r="1.3" fill="#42a6ea"/>
<circle cx="264.3" cy="287.5" r="1.3" fill="#42a6ea"/>
<circle cx="265.0" cy="283.0" r="1.3" fill="#42a6ea"/>
<circle cx="267.3" cy="286.0" r="1.3" fill="#42a6ea"/>
<circle cx="268.8" cy="287.5" r="1.3" fill="#42a6ea"/>
<circle cx="265.8" cy="294.3" r="1.3" fill="#42a6ea"/>
<circle cx="266.5" cy="298.0" r="1.3" fill="#42a6ea"/>
<circle cx="268.0" cy="297.3" r="1.3" fill="#42a6ea"/>
<circle cx="267.3" cy="301.0" r="1.3" fill="#42a6ea"/>
<circle cx="268.8" cy="299.5" r="1.3" fill="#42a6ea"/>
<circle cx="272.8" cy="276.7" r="1.3" fill="#42a6ea"/>
<circle cx="286.8" cy="274.0" r="1.3" fill="#42a6ea"/>
<circle cx="290.2" cy="274.3" r="1.3" fill="#42a6ea"/>
<circle cx="291.3" cy="275.8" r="1.3" fill="#42a6ea"/>
<circle cx="283.8" cy="279.6" r="1.3" fill="#42a6ea"/>
<circle cx="278.2" cy="280.8" r="1.3" fill="#42a6ea"/>
<circle cx="275.5" cy="282.3" r="1.3" fill="#42a6ea"/>
<circle cx="277.0" cy="283.3" r="1.3" fill="#42a6ea"/>
<circle cx="281.8" cy="285.0" r="1.3" fill="#42a6ea"/>
<circle cx="284.2" cy="284.1" r="1.3" fill="#42a6ea"/>
<circle cx="289.0" cy="284.1" r="1.3" fill="#42a6ea"/>
<circle cx="290.2" cy="287.2" r="1.3" fill="#42a6ea"/>
<circle cx="270.7" cy="287.5" r="1.3" fill="#42a6ea"/>
<circle cx="274.8" cy="288.7" r="1.3" fill="#42a6ea"/>
<circle cx="279.7" cy="289.5" r="1.3" fill="#42a6ea"/>
<circle cx="278.2" cy="292.0" r="1.3" fill="#42a6ea"/>
<circle cx="271.0" cy="292.0" r="1.3" fill="#42a6ea"/>
<circle cx="272.2" cy="293.5" r="1.3" fill="#42a6ea"/>
<circle cx="274.0" cy="294.0" r="1.3" fill="#42a6ea"/>
<circle cx="276.3" cy="294.3" r="1.3" fill="#42a6ea"/>
<circle cx="279.3" cy="295.0" r="1.3" fill="#42a6ea"/>
<circle cx="277.0" cy="295.8" r="1.3" fill="#42a6ea"/>
<circle cx="283.5" cy="293.5" r="1.3" fill="#42a6ea"/>
<circle cx="283.5" cy="295.5" r="1.3" fill="#42a6ea"/>
<circle cx="289.0" cy="291.7" r="1.3" fill="#42a6ea"/>
<circle cx="288.3" cy="297.3" r="1.3" fill="#42a6ea"/>
<circle cx="270.7" cy="297.7" r="1.3" fill="#42a6ea"/>
<circle cx="280.0" cy="299.2" r="1.3" fill="#42a6ea"/>
<circle cx="281.5" cy="299.8" r="1.3" fill="#42a6ea"/>
<circle cx="279.7" cy="301.8" r="1.3" fill="#42a6ea"/>
<circle cx="273.7" cy="302.2" r="1.3" fill="#42a6ea"/>
<circle cx="274.0" cy="304.5" r="1.3" fill="#42a6ea"/>
<circle cx="276.7" cy="304.8" r="1.3" fill="#42a6ea"/>
<circle cx="302.5" cy="272.2" r="1.3" fill="#42a6ea"/>
<circle cx="322.8" cy="275.2" r="1.3" fill="#42a6ea"/>
<circle cx="323.8" cy="274.3" r="1.3" fill="#42a6ea"/>
<circle cx="308.8" cy="282.0" r="1.3" fill="#42a6ea"/>
<circle cx="323.5" cy="282.3" r="1.3" fill="#42a6ea"/>
<circle cx="325.0" cy="282.7" r="1.3" fill="#42a6ea"/>
<text x="236.40" y="315.30" font-size="7.25" text-anchor="middle" fill="#262626" font-weight="normal" stroke="#262626" stroke-width="0.18" >0.6</text>
<text x="259.45" y="315.30" font-size="7.25" text-anchor="middle" fill="#262626" font-weight="normal" stroke="#262626" stroke-width="0.18" >0.7</text>
<text x="282.50" y="315.30" font-size="7.25" text-anchor="middle" fill="#262626" font-weight="normal" stroke="#262626" stroke-width="0.18" >0.8</text>
<text x="305.55" y="315.30" font-size="7.25" text-anchor="middle" fill="#262626" font-weight="normal" stroke="#262626" stroke-width="0.18" >0.9</text>
<text x="328.60" y="315.30" font-size="7.25" text-anchor="middle" fill="#262626" font-weight="normal" stroke="#262626" stroke-width="0.18" >1</text>
<text x="212.30" y="307.59" font-size="7.25" text-anchor="end" fill="#262626" font-weight="normal" stroke="#262626" stroke-width="0.18" >0</text>
<text x="212.30" y="293.93" font-size="7.25" text-anchor="end" fill="#262626" font-weight="normal" stroke="#262626" stroke-width="0.18" >50</text>
<text x="212.30" y="280.27" font-size="7.25" text-anchor="end" fill="#262626" font-weight="normal" stroke="#262626" stroke-width="0.18" >100</text>
<text x="212.30" y="266.61" font-size="7.25" text-anchor="end" fill="#262626" font-weight="normal" stroke="#262626" stroke-width="0.18" >150</text>
<text x="212.30" y="252.95" font-size="7.25" text-anchor="end" fill="#262626" font-weight="normal" stroke="#262626" stroke-width="0.18" >200</text>
<text x="212.30" y="239.29" font-size="7.25" text-anchor="end" fill="#262626" font-weight="normal" stroke="#262626" stroke-width="0.18" >250</text>
<text x="235.20" y="212.90" font-size="7.25" text-anchor="start" fill="#141414" font-weight="normal" stroke="#141414" stroke-width="0.18" textLength="61.2" lengthAdjust="spacingAndGlyphs" >FIBER 10-FOLD CV</text>
<text x="213.70" y="221.40" font-size="7.25" text-anchor="start" fill="#141414" font-weight="normal" stroke="#141414" stroke-width="0.18" textLength="111.8" lengthAdjust="spacingAndGlyphs" >SPEARMAN: [R = 0.52; P = 2.000e-4]</text>
<text x="273.30" y="323.40" font-size="7.5" text-anchor="middle" fill="#141414" font-weight="normal" stroke="#141414" stroke-width="0.18" textLength="39.0" lengthAdjust="spacingAndGlyphs" >ACCURACY</text>
<g transform="translate(195.3,266.6) rotate(-90)"><text x="0.00" y="0.00" font-size="7.5" text-anchor="middle" fill="#141414" font-weight="normal" stroke="#141414" stroke-width="0.18" textLength="49.6" lengthAdjust="spacingAndGlyphs" >FIBER-SCORE</text></g>
<path d="M561.50,141.50 L564.32,140.63 L567.14,139.75 L569.96,138.87 L572.78,137.97 L575.60,137.07 L578.42,136.17 L581.24,135.25 L584.06,134.32 L586.88,133.37 L589.70,132.41 L592.52,131.43 L595.34,130.44 L598.16,129.41 L600.98,128.36 L603.80,127.29 L606.62,126.18 L609.44,125.04 L612.26,123.86 L615.08,122.66 L617.90,121.42 L620.72,120.15 L623.54,118.86 L626.36,117.54 L629.18,116.20 L632.00,114.84 L634.82,113.47 L637.64,112.08 L640.46,110.67 L643.28,109.26 L646.10,107.84 L648.92,106.40 L651.74,104.97 L654.56,103.52 L657.38,102.07 L660.20,100.62 L663.02,99.16 L665.84,97.70 L668.66,96.23 L671.48,94.77 L674.30,93.29 L674.30,110.31 L671.48,111.16 L668.66,112.02 L665.84,112.88 L663.02,113.74 L660.20,114.61 L657.38,115.48 L654.56,116.35 L651.74,117.23 L648.92,118.12 L646.10,119.01 L643.28,119.92 L640.46,120.83 L637.64,121.75 L634.82,122.68 L632.00,123.63 L629.18,124.60 L626.36,125.58 L623.54,126.59 L620.72,127.62 L617.90,128.68 L615.08,129.77 L612.26,130.89 L609.44,132.04 L606.62,133.22 L603.80,134.44 L600.98,135.69 L598.16,136.96 L595.34,138.26 L592.52,139.59 L589.70,140.94 L586.88,142.30 L584.06,143.68 L581.24,145.08 L578.42,146.48 L575.60,147.90 L572.78,149.33 L569.96,150.76 L567.14,152.20 L564.32,153.65 L561.50,154.30Z" fill="#e0e0e0"/>
<path d="M556.0,68.0 L556.0,154.3 L679.6,154.3" fill="none" stroke="#adadad" stroke-width="0.9"/>
<line x1="561.60" y1="154.3" x2="561.60" y2="153.10000000000002" stroke="#adadad" stroke-width="0.7"/>
<line x1="585.00" y1="154.3" x2="585.00" y2="153.10000000000002" stroke="#adadad" stroke-width="0.7"/>
<line x1="608.40" y1="154.3" x2="608.40" y2="153.10000000000002" stroke="#adadad" stroke-width="0.7"/>
<line x1="631.80" y1="154.3" x2="631.80" y2="153.10000000000002" stroke="#adadad" stroke-width="0.7"/>
<line x1="655.20" y1="154.3" x2="655.20" y2="153.10000000000002" stroke="#adadad" stroke-width="0.7"/>
<line x1="678.60" y1="154.3" x2="678.60" y2="153.10000000000002" stroke="#adadad" stroke-width="0.7"/>
<line x1="556.0" y1="151.30" x2="557.2" y2="151.30" stroke="#adadad" stroke-width="0.7"/>
<line x1="556.0" y1="134.20" x2="557.2" y2="134.20" stroke="#adadad" stroke-width="0.7"/>
<line x1="556.0" y1="117.10" x2="557.2" y2="117.10" stroke="#adadad" stroke-width="0.7"/>
<line x1="556.0" y1="100.00" x2="557.2" y2="100.00" stroke="#adadad" stroke-width="0.7"/>
<line x1="556.0" y1="82.90" x2="557.2" y2="82.90" stroke="#adadad" stroke-width="0.7"/>
<line x1="561.5" y1="148.3" x2="674.3" y2="101.8" stroke="#3a3a3a" stroke-width="0.75"/>
<circle cx="608.8" cy="71.8" r="1.3" fill="#42a6ea"/>
<circle cx="582.1" cy="90.5" r="1.3" fill="#42a6ea"/>
<circle cx="605.3" cy="93.1" r="1.3" fill="#42a6ea"/>
<circle cx="604.8" cy="97.7" r="1.3" fill="#42a6ea"/>
<circle cx="608.8" cy="105.2" r="1.3" fill="#42a6ea"/>
<circle cx="608.0" cy="107.0" r="1.3" fill="#42a6ea"/>
<circle cx="603.1" cy="114.2" r="1.3" fill="#42a6ea"/>
<circle cx="634.6" cy="76.0" r="1.3" fill="#42a6ea"/>
<circle cx="656.8" cy="73.3" r="1.3" fill="#42a6ea"/>
<circle cx="625.0" cy="85.0" r="1.3" fill="#42a6ea"/>
<circle cx="657.1" cy="83.8" r="1.3" fill="#42a6ea"/>
<circle cx="662.8" cy="81.2" r="1.3" fill="#42a6ea"/>
<circle cx="667.7" cy="89.8" r="1.3" fill="#42a6ea"/>
<circle cx="674.3" cy="89.0" r="1.3" fill="#42a6ea"/>
<circle cx="626.0" cy="91.3" r="1.3" fill="#42a6ea"/>
<circle cx="613.6" cy="96.2" r="1.3" fill="#42a6ea"/>
<circle cx="650.3" cy="100.0" r="1.3" fill="#42a6ea"/>
<circle cx="661.7" cy="102.5" r="1.3" fill="#42a6ea"/>
<circle cx="648.1" cy="105.8" r="1.3" fill="#42a6ea"/>
<circle cx="611.3" cy="111.2" r="1.3" fill="#42a6ea"/>
<circle cx="611.8" cy="112.7" r="1.3" fill="#42a6ea"/>
<circle cx="619.6" cy="113.5" r="1.3" fill="#42a6ea"/>
<circle cx="632.5" cy="114.2" r="1.3" fill="#42a6ea"/>
<circle cx="670.6" cy="111.5" r="1.3" fill="#42a6ea"/>
<circle cx="609.1" cy="117.8" r="1.3" fill="#42a6ea"/>
<circle cx="570.8" cy="121.0" r="1.3" fill="#42a6ea"/>
<circle cx="573.2" cy="124.3" r="1.3" fill="#42a6ea"/>
<circle cx="581.0" cy="119.5" r="1.3" fill="#42a6ea"/>
<circle cx="584.5" cy="120.2" r="1.3" fill="#42a6ea"/>
<circle cx="564.2" cy="131.3" r="1.3" fill="#42a6ea"/>
<circle cx="563.8" cy="138.2" r="1.3" fill="#42a6ea"/>
<circle cx="571.6" cy="137.8" r="1.3" fill="#42a6ea"/>
<circle cx="585.8" cy="136.3" r="1.3" fill="#42a6ea"/>
<circle cx="589.7" cy="138.5" r="1.3" fill="#42a6ea"/>
<circle cx="591.2" cy="137.8" r="1.3" fill="#42a6ea"/>
<circle cx="598.0" cy="131.0" r="1.3" fill="#42a6ea"/>
<circle cx="597.2" cy="134.8" r="1.3" fill="#42a6ea"/>
<circle cx="596.0" cy="135.5" r="1.3" fill="#42a6ea"/>
<circle cx="608.8" cy="132.5" r="1.3" fill="#42a6ea"/>
<circle cx="608.8" cy="134.0" r="1.3" fill="#42a6ea"/>
<circle cx="605.8" cy="137.3" r="1.3" fill="#42a6ea"/>
<circle cx="606.5" cy="140.8" r="1.3" fill="#42a6ea"/>
<circle cx="578.8" cy="142.7" r="1.3" fill="#42a6ea"/>
<circle cx="591.8" cy="141.2" r="1.3" fill="#42a6ea"/>
<circle cx="566.5" cy="145.3" r="1.3" fill="#42a6ea"/>
<circle cx="568.3" cy="148.3" r="1.3" fill="#42a6ea"/>
<circle cx="571.3" cy="143.8" r="1.3" fill="#42a6ea"/>
<circle cx="571.7" cy="145.6" r="1.3" fill="#42a6ea"/>
<circle cx="561.2" cy="149.3" r="1.3" fill="#42a6ea"/>
<circle cx="574.4" cy="150.2" r="1.3" fill="#42a6ea"/>
<circle cx="576.1" cy="150.2" r="1.3" fill="#42a6ea"/>
<circle cx="578.0" cy="147.2" r="1.3" fill="#42a6ea"/>
<circle cx="579.8" cy="147.5" r="1.3" fill="#42a6ea"/>
<circle cx="584.0" cy="147.2" r="1.3" fill="#42a6ea"/>
<circle cx="585.2" cy="146.0" r="1.3" fill="#42a6ea"/>
<circle cx="586.3" cy="148.3" r="1.3" fill="#42a6ea"/>
<circle cx="587.8" cy="147.5" r="1.3" fill="#42a6ea"/>
<circle cx="589.3" cy="146.0" r="1.3" fill="#42a6ea"/>
<circle cx="590.8" cy="144.5" r="1.3" fill="#42a6ea"/>
<circle cx="591.5" cy="148.3" r="1.3" fill="#42a6ea"/>
<circle cx="591.2" cy="150.2" r="1.3" fill="#42a6ea"/>
<circle cx="594.5" cy="149.8" r="1.3" fill="#42a6ea"/>
<circle cx="596.3" cy="144.8" r="1.3" fill="#42a6ea"/>
<circle cx="597.5" cy="148.7" r="1.3" fill="#42a6ea"/>
<circle cx="599.0" cy="146.8" r="1.3" fill="#42a6ea"/>
<circle cx="600.5" cy="147.5" r="1.3" fill="#42a6ea"/>
<circle cx="602.0" cy="146.8" r="1.3" fill="#42a6ea"/>
<circle cx="641.5" cy="120.1" r="1.3" fill="#42a6ea"/>
<circle cx="624.1" cy="121.7" r="1.3" fill="#42a6ea"/>
<circle cx="618.8" cy="123.5" r="1.3" fill="#42a6ea"/>
<circle cx="614.0" cy="125.8" r="1.3" fill="#42a6ea"/>
<circle cx="627.2" cy="126.1" r="1.3" fill="#42a6ea"/>
<circle cx="651.2" cy="123.2" r="1.3" fill="#42a6ea"/>
<circle cx="661.3" cy="124.3" r="1.3" fill="#42a6ea"/>
<circle cx="671.0" cy="123.1" r="1.3" fill="#42a6ea"/>
<circle cx="610.7" cy="128.8" r="1.3" fill="#42a6ea"/>
<circle cx="631.3" cy="129.2" r="1.3" fill="#42a6ea"/>
<circle cx="618.8" cy="130.3" r="1.3" fill="#42a6ea"/>
<circle cx="612.8" cy="132.8" r="1.3" fill="#42a6ea"/>
<circle cx="614.3" cy="134.3" r="1.3" fill="#42a6ea"/>
<circle cx="652.3" cy="133.7" r="1.3" fill="#42a6ea"/>
<circle cx="611.3" cy="137.5" r="1.3" fill="#42a6ea"/>
<circle cx="625.7" cy="137.3" r="1.3" fill="#42a6ea"/>
<circle cx="632.5" cy="139.0" r="1.3" fill="#42a6ea"/>
<circle cx="643.3" cy="141.1" r="1.3" fill="#42a6ea"/>
<circle cx="647.0" cy="142.3" r="1.3" fill="#42a6ea"/>
<circle cx="652.7" cy="142.7" r="1.3" fill="#42a6ea"/>
<circle cx="619.6" cy="144.1" r="1.3" fill="#42a6ea"/>
<circle cx="625.6" cy="143.3" r="1.3" fill="#42a6ea"/>
<circle cx="640.6" cy="145.3" r="1.3" fill="#42a6ea"/>
<circle cx="618.5" cy="148.6" r="1.3" fill="#42a6ea"/>
<text x="562.40" y="161.50" font-size="7.25" text-anchor="middle" fill="#262626" font-weight="normal" stroke="#262626" stroke-width="0.18" >0.5</text>
<text x="585.80" y="161.50" font-size="7.25" text-anchor="middle" fill="#262626" font-weight="normal" stroke="#262626" stroke-width="0.18" >0.6</text>
<text x="609.20" y="161.50" font-size="7.25" text-anchor="middle" fill="#262626" font-weight="normal" stroke="#262626" stroke-width="0.18" >0.7</text>
<text x="632.60" y="161.50" font-size="7.25" text-anchor="middle" fill="#262626" font-weight="normal" stroke="#262626" stroke-width="0.18" >0.8</text>
<text x="656.00" y="161.50" font-size="7.25" text-anchor="middle" fill="#262626" font-weight="normal" stroke="#262626" stroke-width="0.18" >0.9</text>
<text x="679.40" y="161.50" font-size="7.25" text-anchor="middle" fill="#262626" font-weight="normal" stroke="#262626" stroke-width="0.18" >1</text>
<text x="554.70" y="153.69" font-size="7.25" text-anchor="end" fill="#262626" font-weight="normal" stroke="#262626" stroke-width="0.18" >0</text>
<text x="554.70" y="136.59" font-size="7.25" text-anchor="end" fill="#262626" font-weight="normal" stroke="#262626" stroke-width="0.18" >50</text>
<text x="554.70" y="119.49" font-size="7.25" text-anchor="end" fill="#262626" font-weight="normal" stroke="#262626" stroke-width="0.18" >100</text>
<text x="554.70" y="102.39" font-size="7.25" text-anchor="end" fill="#262626" font-weight="normal" stroke="#262626" stroke-width="0.18" >150</text>
<text x="554.70" y="85.29" font-size="7.25" text-anchor="end" fill="#262626" font-weight="normal" stroke="#262626" stroke-width="0.18" >200</text>
<text x="572.60" y="55.70" font-size="7.4" text-anchor="start" fill="#141414" font-weight="normal" stroke="#141414" stroke-width="0.18" textLength="77.8" lengthAdjust="spacingAndGlyphs" >SWEETSPOT 10-FOLD CV</text>
<text x="558.70" y="64.40" font-size="7.4" text-anchor="start" fill="#141414" font-weight="normal" stroke="#141414" stroke-width="0.18" textLength="105.7" lengthAdjust="spacingAndGlyphs" >SPEARMAN: [R = 0.58; P = 2.000e-4]</text>
<text x="617.90" y="169.70" font-size="7.8" text-anchor="middle" fill="#141414" font-weight="normal" stroke="#141414" stroke-width="0.18" textLength="36.6" lengthAdjust="spacingAndGlyphs" >ACCURACY</text>
<g transform="translate(541.8,111.6) rotate(-90)"><text x="0.00" y="0.00" font-size="7.8" text-anchor="middle" fill="#141414" font-weight="normal" stroke="#141414" stroke-width="0.18" textLength="76.0" lengthAdjust="spacingAndGlyphs" >SWEETSPOT-SCORE</text></g>
<path d="M562.30,295.64 L565.19,294.93 L568.09,294.21 L570.99,293.48 L573.88,292.74 L576.77,292.00 L579.67,291.24 L582.56,290.47 L585.46,289.69 L588.36,288.89 L591.25,288.06 L594.14,287.22 L597.04,286.35 L599.93,285.45 L602.83,284.52 L605.73,283.56 L608.62,282.57 L611.51,281.54 L614.41,280.49 L617.30,279.40 L620.20,278.29 L623.10,277.15 L625.99,275.99 L628.88,274.82 L631.78,273.63 L634.67,272.42 L637.57,271.21 L640.47,269.98 L643.36,268.75 L646.25,267.50 L649.15,266.25 L652.04,265.00 L654.94,263.74 L657.84,262.48 L660.73,261.21 L663.62,259.94 L666.52,258.67 L669.41,257.39 L672.31,256.11 L675.21,254.83 L678.10,253.55 L678.10,270.85 L675.21,271.53 L672.31,272.22 L669.41,272.91 L666.52,273.59 L663.62,274.29 L660.73,274.98 L657.84,275.68 L654.94,276.38 L652.04,277.09 L649.15,277.80 L646.25,278.51 L643.36,279.23 L640.47,279.96 L637.57,280.70 L634.67,281.45 L631.78,282.21 L628.88,282.99 L625.99,283.78 L623.10,284.58 L620.20,285.41 L617.30,286.26 L614.41,287.14 L611.51,288.05 L608.62,288.99 L605.73,289.96 L602.83,290.97 L599.93,292.00 L597.04,293.07 L594.14,294.16 L591.25,295.29 L588.36,296.43 L585.46,297.59 L582.56,298.77 L579.67,299.97 L576.77,301.18 L573.88,302.40 L570.99,303.63 L568.09,304.86 L565.19,306.11 L562.30,307.36Z" fill="#e0e0e0"/>
<path d="M557.0,228.0 L557.0,315.5 L683.6,315.5" fill="none" stroke="#adadad" stroke-width="0.9"/>
<line x1="562.10" y1="315.5" x2="562.10" y2="314.3" stroke="#adadad" stroke-width="0.7"/>
<line x1="585.90" y1="315.5" x2="585.90" y2="314.3" stroke="#adadad" stroke-width="0.7"/>
<line x1="609.70" y1="315.5" x2="609.70" y2="314.3" stroke="#adadad" stroke-width="0.7"/>
<line x1="633.50" y1="315.5" x2="633.50" y2="314.3" stroke="#adadad" stroke-width="0.7"/>
<line x1="657.30" y1="315.5" x2="657.30" y2="314.3" stroke="#adadad" stroke-width="0.7"/>
<line x1="681.10" y1="315.5" x2="681.10" y2="314.3" stroke="#adadad" stroke-width="0.7"/>
<line x1="557.0" y1="311.50" x2="558.2" y2="311.50" stroke="#adadad" stroke-width="0.7"/>
<line x1="557.0" y1="300.00" x2="558.2" y2="300.00" stroke="#adadad" stroke-width="0.7"/>
<line x1="557.0" y1="288.50" x2="558.2" y2="288.50" stroke="#adadad" stroke-width="0.7"/>
<line x1="557.0" y1="277.00" x2="558.2" y2="277.00" stroke="#adadad" stroke-width="0.7"/>
<line x1="557.0" y1="265.50" x2="558.2" y2="265.50" stroke="#adadad" stroke-width="0.7"/>
<line x1="557.0" y1="254.00" x2="558.2" y2="254.00" stroke="#adadad" stroke-width="0.7"/>
<line x1="557.0" y1="242.50" x2="558.2" y2="242.50" stroke="#adadad" stroke-width="0.7"/>
<line x1="557.0" y1="231.00" x2="558.2" y2="231.00" stroke="#adadad" stroke-width="0.7"/>
<line x1="562.3" y1="301.5" x2="678.1" y2="262.2" stroke="#3a3a3a" stroke-width="0.75"/>
<circle cx="597.2" cy="258.8" r="1.3" fill="#42a6ea"/>
<circle cx="607.3" cy="260.3" r="1.3" fill="#42a6ea"/>
<circle cx="565.3" cy="269.0" r="1.3" fill="#42a6ea"/>
<circle cx="572.8" cy="266.7" r="1.3" fill="#42a6ea"/>
<circle cx="583.6" cy="268.5" r="1.3" fill="#42a6ea"/>
<circle cx="604.7" cy="267.0" r="1.3" fill="#42a6ea"/>
<circle cx="609.5" cy="243.0" r="1.3" fill="#42a6ea"/>
<circle cx="621.1" cy="231.5" r="1.3" fill="#42a6ea"/>
<circle cx="615.5" cy="237.8" r="1.3" fill="#42a6ea"/>
<circle cx="611.3" cy="240.5" r="1.3" fill="#42a6ea"/>
<circle cx="628.3" cy="243.3" r="1.3" fill="#42a6ea"/>
<circle cx="637.0" cy="250.2" r="1.3" fill="#42a6ea"/>
<circle cx="659.8" cy="251.0" r="1.3" fill="#42a6ea"/>
<circle cx="654.1" cy="255.3" r="1.3" fill="#42a6ea"/>
<circle cx="664.6" cy="256.5" r="1.3" fill="#42a6ea"/>
<circle cx="671.0" cy="257.6" r="1.3" fill="#42a6ea"/>
<circle cx="613.3" cy="256.8" r="1.3" fill="#42a6ea"/>
<circle cx="633.8" cy="261.5" r="1.3" fill="#42a6ea"/>
<circle cx="665.8" cy="262.2" r="1.3" fill="#42a6ea"/>
<circle cx="611.0" cy="265.8" r="1.3" fill="#42a6ea"/>
<circle cx="653.0" cy="267.3" r="1.3" fill="#42a6ea"/>
<circle cx="655.3" cy="267.0" r="1.3" fill="#42a6ea"/>
<circle cx="664.7" cy="267.8" r="1.3" fill="#42a6ea"/>
<circle cx="674.0" cy="266.7" r="1.3" fill="#42a6ea"/>
<circle cx="678.1" cy="266.3" r="1.3" fill="#42a6ea"/>
<circle cx="627.5" cy="270.8" r="1.3" fill="#42a6ea"/>
<circle cx="586.3" cy="274.0" r="1.3" fill="#42a6ea"/>
<circle cx="587.5" cy="275.1" r="1.3" fill="#42a6ea"/>
<circle cx="606.8" cy="275.1" r="1.3" fill="#42a6ea"/>
<circle cx="600.5" cy="278.2" r="1.3" fill="#42a6ea"/>
<circle cx="582.5" cy="282.0" r="1.3" fill="#42a6ea"/>
<circle cx="599.8" cy="283.3" r="1.3" fill="#42a6ea"/>
<circle cx="573.2" cy="284.2" r="1.3" fill="#42a6ea"/>
<circle cx="572.3" cy="286.0" r="1.3" fill="#42a6ea"/>
<circle cx="599.8" cy="286.0" r="1.3" fill="#42a6ea"/>
<circle cx="599.0" cy="287.2" r="1.3" fill="#42a6ea"/>
<circle cx="603.2" cy="286.8" r="1.3" fill="#42a6ea"/>
<circle cx="574.3" cy="288.7" r="1.3" fill="#42a6ea"/>
<circle cx="572.8" cy="290.1" r="1.3" fill="#42a6ea"/>
<circle cx="587.8" cy="290.2" r="1.3" fill="#42a6ea"/>
<circle cx="607.8" cy="289.5" r="1.3" fill="#42a6ea"/>
<circle cx="564.8" cy="293.8" r="1.3" fill="#42a6ea"/>
<circle cx="580.7" cy="295.8" r="1.3" fill="#42a6ea"/>
<circle cx="599.3" cy="294.3" r="1.3" fill="#42a6ea"/>
<circle cx="591.2" cy="297.0" r="1.3" fill="#42a6ea"/>
<circle cx="593.0" cy="297.3" r="1.3" fill="#42a6ea"/>
<circle cx="592.7" cy="299.2" r="1.3" fill="#42a6ea"/>
<circle cx="569.8" cy="299.2" r="1.3" fill="#42a6ea"/>
<circle cx="568.3" cy="301.0" r="1.3" fill="#42a6ea"/>
<circle cx="581.5" cy="300.6" r="1.3" fill="#42a6ea"/>
<circle cx="608.8" cy="298.8" r="1.3" fill="#42a6ea"/>
<circle cx="569.3" cy="304.5" r="1.3" fill="#42a6ea"/>
<circle cx="579.8" cy="304.5" r="1.3" fill="#42a6ea"/>
<circle cx="581.8" cy="304.0" r="1.3" fill="#42a6ea"/>
<circle cx="585.8" cy="305.5" r="1.3" fill="#42a6ea"/>
<circle cx="587.8" cy="305.5" r="1.3" fill="#42a6ea"/>
<circle cx="589.7" cy="305.5" r="1.3" fill="#42a6ea"/>
<circle cx="593.0" cy="304.3" r="1.3" fill="#42a6ea"/>
<circle cx="594.2" cy="305.2" r="1.3" fill="#42a6ea"/>
<circle cx="598.7" cy="306.0" r="1.3" fill="#42a6ea"/>
<circle cx="603.5" cy="305.5" r="1.3" fill="#42a6ea"/>
<circle cx="602.5" cy="302.2" r="1.3" fill="#42a6ea"/>
<circle cx="581.5" cy="307.8" r="1.3" fill="#42a6ea"/>
<circle cx="593.0" cy="307.5" r="1.3" fill="#42a6ea"/>
<circle cx="562.3" cy="309.7" r="1.3" fill="#42a6ea"/>
<circle cx="570.1" cy="310.0" r="1.3" fill="#42a6ea"/>
<circle cx="575.8" cy="311.2" r="1.3" fill="#42a6ea"/>
<circle cx="577.7" cy="310.8" r="1.3" fill="#42a6ea"/>
<circle cx="593.0" cy="310.0" r="1.3" fill="#42a6ea"/>
<circle cx="596.0" cy="309.3" r="1.3" fill="#42a6ea"/>
<circle cx="599.8" cy="309.7" r="1.3" fill="#42a6ea"/>
<circle cx="593.8" cy="311.5" r="1.3" fill="#42a6ea"/>
<circle cx="674.3" cy="272.8" r="1.3" fill="#42a6ea"/>
<circle cx="655.7" cy="276.3" r="1.3" fill="#42a6ea"/>
<circle cx="621.8" cy="272.8" r="1.3" fill="#42a6ea"/>
<circle cx="627.2" cy="274.8" r="1.3" fill="#42a6ea"/>
<circle cx="613.3" cy="277.5" r="1.3" fill="#42a6ea"/>
<circle cx="610.3" cy="282.0" r="1.3" fill="#42a6ea"/>
<circle cx="614.0" cy="282.0" r="1.3" fill="#42a6ea"/>
<circle cx="611.8" cy="283.8" r="1.3" fill="#42a6ea"/>
<circle cx="616.3" cy="284.2" r="1.3" fill="#42a6ea"/>
<circle cx="611.0" cy="286.3" r="1.3" fill="#42a6ea"/>
<circle cx="627.8" cy="283.3" r="1.3" fill="#42a6ea"/>
<circle cx="635.0" cy="285.3" r="1.3" fill="#42a6ea"/>
<circle cx="646.0" cy="282.3" r="1.3" fill="#42a6ea"/>
<circle cx="650.8" cy="280.5" r="1.3" fill="#42a6ea"/>
<circle cx="649.7" cy="283.8" r="1.3" fill="#42a6ea"/>
<circle cx="660.2" cy="283.0" r="1.3" fill="#42a6ea"/>
<circle cx="620.8" cy="289.0" r="1.3" fill="#42a6ea"/>
<circle cx="627.8" cy="288.7" r="1.3" fill="#42a6ea"/>
<circle cx="629.8" cy="288.3" r="1.3" fill="#42a6ea"/>
<circle cx="635.0" cy="290.5" r="1.3" fill="#42a6ea"/>
<circle cx="644.3" cy="290.5" r="1.3" fill="#42a6ea"/>
<circle cx="610.7" cy="297.3" r="1.3" fill="#42a6ea"/>
<circle cx="615.1" cy="300.3" r="1.3" fill="#42a6ea"/>
<circle cx="626.0" cy="299.5" r="1.3" fill="#42a6ea"/>
<circle cx="643.3" cy="301.8" r="1.3" fill="#42a6ea"/>
<circle cx="621.8" cy="303.6" r="1.3" fill="#42a6ea"/>
<circle cx="620.5" cy="305.8" r="1.3" fill="#42a6ea"/>
<text x="563.00" y="322.90" font-size="7.25" text-anchor="middle" fill="#262626" font-weight="normal" stroke="#262626" stroke-width="0.18" >0.5</text>
<text x="586.80" y="322.90" font-size="7.25" text-anchor="middle" fill="#262626" font-weight="normal" stroke="#262626" stroke-width="0.18" >0.6</text>
<text x="610.60" y="322.90" font-size="7.25" text-anchor="middle" fill="#262626" font-weight="normal" stroke="#262626" stroke-width="0.18" >0.7</text>
<text x="634.40" y="322.90" font-size="7.25" text-anchor="middle" fill="#262626" font-weight="normal" stroke="#262626" stroke-width="0.18" >0.8</text>
<text x="658.20" y="322.90" font-size="7.25" text-anchor="middle" fill="#262626" font-weight="normal" stroke="#262626" stroke-width="0.18" >0.9</text>
<text x="682.00" y="322.90" font-size="7.25" text-anchor="middle" fill="#262626" font-weight="normal" stroke="#262626" stroke-width="0.18" >1</text>
<text x="556.00" y="314.69" font-size="7.25" text-anchor="end" fill="#262626" font-weight="normal" stroke="#262626" stroke-width="0.18" >0</text>
<text x="556.00" y="303.19" font-size="7.25" text-anchor="end" fill="#262626" font-weight="normal" stroke="#262626" stroke-width="0.18" >20</text>
<text x="556.00" y="291.69" font-size="7.25" text-anchor="end" fill="#262626" font-weight="normal" stroke="#262626" stroke-width="0.18" >40</text>
<text x="556.00" y="280.19" font-size="7.25" text-anchor="end" fill="#262626" font-weight="normal" stroke="#262626" stroke-width="0.18" >60</text>
<text x="556.00" y="268.69" font-size="7.25" text-anchor="end" fill="#262626" font-weight="normal" stroke="#262626" stroke-width="0.18" >80</text>
<text x="556.00" y="257.19" font-size="7.25" text-anchor="end" fill="#262626" font-weight="normal" stroke="#262626" stroke-width="0.18" >100</text>
<text x="556.00" y="245.69" font-size="7.25" text-anchor="end" fill="#262626" font-weight="normal" stroke="#262626" stroke-width="0.18" >120</text>
<text x="556.00" y="234.19" font-size="7.25" text-anchor="end" fill="#262626" font-weight="normal" stroke="#262626" stroke-width="0.18" >140</text>
<text x="587.30" y="213.00" font-size="7.3" text-anchor="start" fill="#141414" font-weight="normal" stroke="#141414" stroke-width="0.18" textLength="61.5" lengthAdjust="spacingAndGlyphs" >FIBER 10-FOLD CV</text>
<text x="567.60" y="221.90" font-size="7.3" text-anchor="start" fill="#141414" font-weight="normal" stroke="#141414" stroke-width="0.18" textLength="109.0" lengthAdjust="spacingAndGlyphs" >SPEARMAN: [R = 0.55; P= 2.000e-4]</text>
<text x="617.60" y="330.90" font-size="7.7" text-anchor="middle" fill="#141414" font-weight="normal" stroke="#141414" stroke-width="0.18" textLength="39.0" lengthAdjust="spacingAndGlyphs" >ACCURACY</text>
<g transform="translate(541.8,269.9) rotate(-90)"><text x="0.00" y="0.00" font-size="7.7" text-anchor="middle" fill="#141414" font-weight="normal" stroke="#141414" stroke-width="0.18" textLength="50.5" lengthAdjust="spacingAndGlyphs" >FIBER-SCORE</text></g>
</svg>
</body></html>
